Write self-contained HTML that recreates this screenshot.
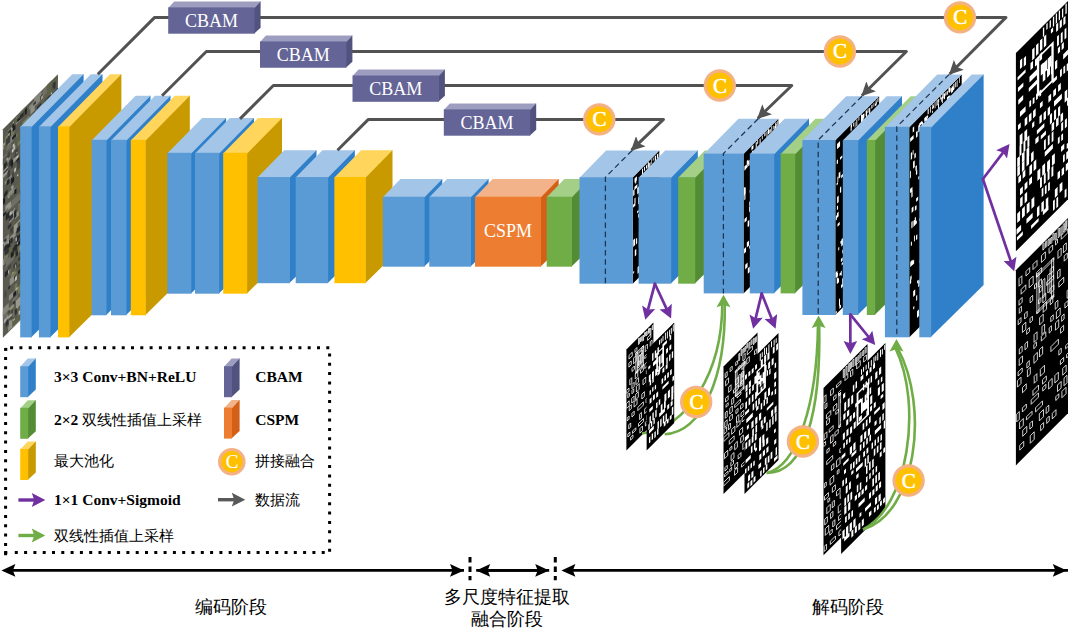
<!DOCTYPE html><html><head><meta charset="utf-8"><style>html,body{margin:0;padding:0;background:#fff;width:1068px;height:637px;overflow:hidden}svg{display:block}text{font-family:"Liberation Serif",serif}</style></head><body><svg width="1068" height="637" viewBox="0 0 1068 637"><defs><marker id="ag" viewBox="0 0 14 14" refX="13" refY="7" markerWidth="14" markerHeight="14" markerUnits="userSpaceOnUse" orient="auto"><path d="M0,0 L14,7 L0,14 L3,7 Z" fill="#525252"/></marker></defs><g transform="matrix(1,-1,0,1,2.9,129.2)"><clipPath id="c1"><polygon points="0,0 55,0 55,208.5 0,208.5"/></clipPath><polygon points="0,0 55,0 55,208.5 0,208.5" fill="#5a5a50"/><g clip-path="url(#c1)"><path d="M46.35 177.8h7.69v6.16h-7.69zM-2.74 14.93h6.93v5.85h-6.93zM7.13 115.01h5.68v4.33h-5.68zM47.28 124.35h5.53v3.73h-5.53zM43.95 122.85h4.76v4.23h-4.76zM52.89 135.61h7.15v7.09h-7.15zM44.79 14.68h7.5v3.21h-7.5zM27.49 4.63h4.36v8.45h-4.36zM45.38 144.66h4.34v5.87h-4.34zM52.89 203.22h6.22v8.54h-6.22zM30 142.39h7.55v6.08h-7.55zM28.01 205.76h3.73v3.65h-3.73zM12.35 96.84h3.76v6.04h-3.76zM32.22 192.23h3.78v8.46h-3.78zM-1.67 130.56h7.95v7.31h-7.95zM27.97 145.72h4.2v7.4h-4.2zM4.59 66.61h6.23v5.59h-6.23zM40.62 82.61h7.34v3.49h-7.34zM33.61 144.96h7.57v9.86h-7.57zM5.23 199.55h4.47v7.94h-4.47zM3.49 185.36h7.71v7.37h-7.71zM39.46 173.93h3.45v3.84h-3.45zM34.27 119.5h5.77v5.27h-5.77zM42.38 152.89h5.21v5.73h-5.21zM51.59 132.1h6.14v7.97h-6.14zM27.16 54.82h8.32v6.3h-8.32zM6.83 156.83h4.87v6.84h-4.87zM-0.17 196.93h7.81v5.69h-7.81zM36.54 14.48h7.49v6.8h-7.49zM5.98 172.55h4.87v5.18h-4.87zM3.74 82.61h5.02v3.92h-5.02z" fill="#8f8f86"/><path d="M30.48 35.96h6.07v7.41h-6.07zM7.61 91.23h3.85v6.77h-3.85zM51.91 69.08h3.51v6.31h-3.51zM32.03 191.22h4.53v3.08h-4.53zM5.03 6.9h6.78v6.13h-6.78zM42.5 192.01h3.74v4.7h-3.74zM48.71 51.12h7.03v9.68h-7.03zM48.33 40.94h8.1v9.78h-8.1zM50.33 191.12h6.15v3.76h-6.15zM27.95 120.78h3.82v9.4h-3.82zM-1.99 39.4h7.09v9.38h-7.09zM28.45 105.63h6.41v4.03h-6.41zM2.51 79.48h5.56v5.48h-5.56zM44.99 181.76h8.45v9.58h-8.45zM10.89 107.43h8.62v8.06h-8.62zM43.86 173.82h7.61v6.11h-7.61zM13.04 1.69h6.09v6.81h-6.09zM48.74 68.35h5.75v5.45h-5.75zM52.19 138.87h5.96v6.76h-5.96zM3.27 191.87h8.49v4.72h-8.49zM28.37 177.07h5.91v5.82h-5.91zM7.16 40.11h8.5v4.04h-8.5zM44.3 134.98h3.07v5.64h-3.07zM53.52 165.68h4.24v7.31h-4.24zM19.36 137.67h4.54v4.4h-4.54zM21.34 104.94h6.88v8.37h-6.88zM36.41 98.86h8.53v7.36h-8.53zM13.73 18.66h7.28v4.78h-7.28zM16.08 27.73h8.6v3.03h-8.6zM53.26 195.22h6.95v5.15h-6.95zM-2.07 39.1h5.81v4h-5.81zM13.05 184.62h5.78v9.34h-5.78z" fill="#9a988c"/><path d="M33.16 122.64h5.38v6.17h-5.38zM32.09 30.23h3.09v6.7h-3.09zM19.65 12.41h6.78v8.45h-6.78zM40.86 85.46h5.3v5.76h-5.3zM7.82 153.02h8.64v4.38h-8.64zM52.7 23.67h5.88v7.57h-5.88zM14.73 25.82h3.43v6.17h-3.43zM15.82 194.13h7.16v6.2h-7.16zM11.28 130.81h7.82v8.28h-7.82zM14.98 174.05h8.89v6.17h-8.89zM27.52 132.02h5.21v3.55h-5.21zM19.11 92.06h4.18v9.21h-4.18zM17.25 127.77h3.63v8.12h-3.63zM43.2 187.46h4.9v5.2h-4.9zM44.48 166.4h5.89v3.17h-5.89zM2.43 10.07h8.71v6.23h-8.71zM49.2 182.42h3.24v3.43h-3.24zM52.94 99.13h5.12v5.37h-5.12zM11.71 167.88h5.21v7.58h-5.21zM49.06 89.42h7.82v5.13h-7.82zM3.01 63.21h3.16v7.57h-3.16zM1.13 127.43h3.28v8.3h-3.28zM16.9 -2.18h5.27v3.62h-5.27zM3.54 133.72h7.66v4.26h-7.66zM23.9 104.32h5.65v9.26h-5.65zM53.61 53.23h6.21v4.05h-6.21zM24.09 58.92h3.68v8.4h-3.68zM3.25 62.35h4.64v6.29h-4.64zM15.9 171.47h3.55v3.99h-3.55zM19.84 144.67h8.89v8.53h-8.89zM53.18 108.81h4.56v4.32h-4.56zM44.62 38.61h8.67v7.39h-8.67zM48.13 47.82h6.44v8.82h-6.44zM45.3 188.26h6.69v7.48h-6.69zM41.89 82.07h5.99v3.72h-5.99z" fill="#737a58"/><path d="M-0.97 182.59h6.6v8.45h-6.6zM45.26 78.55h8.75v8.93h-8.75zM9.17 192.61h3.31v5.63h-3.31zM4.67 146.18h3.07v6.25h-3.07zM9.01 80.19h8.13v7.49h-8.13zM-0.6 27.88h5.65v3.07h-5.65zM26.2 50.84h7.44v5.74h-7.44zM0.94 83.81h4.49v3.33h-4.49zM46.65 85.02h7.74v9.04h-7.74zM1.57 131.91h8.96v9.16h-8.96zM51.15 55.4h4.01v6.15h-4.01zM44.24 55.68h6.65v7.75h-6.65zM18.48 117.02h8.28v8.58h-8.28zM22.13 113.11h7.61v6.41h-7.61zM9.44 180.05h5.57v3.25h-5.57zM31.5 2.86h8.82v6.61h-8.82zM-0.97 29.82h3.07v4.99h-3.07zM45.56 128.56h7.31v7.91h-7.31zM3.54 19.8h4.42v6.11h-4.42zM28.32 138.04h8.73v5.7h-8.73zM42.46 44.2h7.31v4.76h-7.31zM32.58 93.15h4.22v3.36h-4.22zM15.38 90.05h6.57v9.32h-6.57zM17.62 74.13h5.18v5.77h-5.18zM39.51 133.94h4.47v4.54h-4.47zM39.93 0.62h5.89v8.6h-5.89zM41.54 89.88h3.22v5.89h-3.22zM28.71 207.42h7v3.47h-7zM36.16 19.31h5.37v6.23h-5.37zM4.49 130.01h4.08v4.35h-4.08zM44.7 122.07h3.54v4.59h-3.54zM22.78 150.98h4.43v6.99h-4.43z" fill="#6f6f66"/><path d="M22.11 174.75h6.11v7.48h-6.11zM16.2 62.67h3.09v5.87h-3.09zM18.02 117.73h3.79v5.54h-3.79zM51.88 1.49h6.82v6.38h-6.82zM39.01 186.94h7.42v7.93h-7.42zM5.16 126.08h6.11v8.28h-6.11zM34.62 90.25h8.35v5.29h-8.35zM49.77 172.32h5.3v6.64h-5.3zM29.52 62.21h7.75v3.13h-7.75zM23.43 134.43h4.23v8.05h-4.23zM11.93 148.55h3.09v6.53h-3.09zM3.58 103.7h7.55v6.52h-7.55zM12.93 21.53h7.46v4.12h-7.46zM14.2 18.28h8.33v9.93h-8.33zM12.71 68.92h6.24v5.91h-6.24zM34.82 154.77h3.16v8.41h-3.16zM39.66 7.58h8.93v9.61h-8.93zM12.66 125.67h7.35v7.89h-7.35zM11.79 2.68h3.23v4.56h-3.23zM1.13 15.24h7.06v6.85h-7.06zM43.94 -1.04h4.86v9.37h-4.86zM47.26 43.16h6.94v5.29h-6.94zM9.61 201.2h7.38v6.61h-7.38zM3.19 35.94h4.3v4.65h-4.3zM34.63 159.82h3.55v9.04h-3.55zM5.25 188.61h7.86v3.92h-7.86zM32.78 194.8h7.5v9.68h-7.5zM34.09 19.42h5.27v6.57h-5.27zM15.76 193.03h5.17v6.24h-5.17zM20.45 128.62h7.14v8.31h-7.14z" fill="#5e6148"/><path d="M53.75 174.29h7.25v5.21h-7.25zM15.75 59.52h3.44v3.63h-3.44zM33.29 0.27h5.21v7.36h-5.21zM32.02 56.13h8.5v4.43h-8.5zM-2.17 136.74h5.28v3.09h-5.28zM2 1.7h8.74v3.79h-8.74zM36.75 106.81h6.69v8.29h-6.69zM16.1 163.25h3.84v4.04h-3.84zM48.33 106.34h7.07v6.08h-7.07zM13.54 150.79h6.83v6.66h-6.83zM12.56 102h5.47v3.8h-5.47zM8.64 130.21h6.83v6.71h-6.83zM6.41 105.15h3.09v9.25h-3.09zM31.18 103.4h8.9v8.63h-8.9zM-0.17 54.6h8.77v5.09h-8.77zM-0.12 38.24h5.25v3.69h-5.25zM29.37 206.97h6.83v8.67h-6.83zM0.34 196.45h5.52v6.69h-5.52zM14.81 108.92h5.9v4.89h-5.9zM-0.56 30.04h7.53v5.73h-7.53zM5.82 73.66h3.84v5.92h-3.84zM11.94 119.85h5.52v8.45h-5.52zM43.46 25.9h4.74v3.9h-4.74zM15.55 112.76h7.48v9.45h-7.48zM1.73 116.05h5.91v7.8h-5.91zM1.66 61.1h7.35v7.86h-7.35zM13.87 1.71h8.05v5.96h-8.05zM28.17 163.28h3.5v3.57h-3.5zM42.3 160.35h7.73v3.41h-7.73zM14.3 163.55h5.5v9.42h-5.5zM48.47 112.68h5.12v6.5h-5.12zM28.96 115.23h4.59v9.37h-4.59z" fill="#55584a"/><path d="M26.23 3.28h6.38v3.76h-6.38zM-2.97 179.37h8.85v7.15h-8.85zM51.67 99.07h6.45v9.07h-6.45zM32.75 62.58h4.37v7.27h-4.37zM30.62 191.88h5.85v5.5h-5.85zM47.18 78.11h6.5v5.22h-6.5zM4.67 71.01h8.37v3.28h-8.37zM20.1 37.07h7.62v4.86h-7.62zM8.36 97.26h4.07v3.08h-4.07zM0.76 110.67h5.48v9.7h-5.48zM9.43 207.65h8.33v3.94h-8.33zM4.55 15.6h5.33v6.04h-5.33zM3.55 33.4h3.95v4.98h-3.95zM31.25 -0.21h7.21v8.91h-7.21zM20.25 72.87h5.22v9.45h-5.22zM34.61 117.18h6.2v5.73h-6.2zM19 201.68h8.13v6.79h-8.13zM33.09 155.96h4.14v4.74h-4.14zM44.67 115.75h4.06v8.31h-4.06zM53.49 76.24h4.01v4.43h-4.01zM47.86 181.42h8.43v6.15h-8.43zM37.66 124.88h3.94v4.1h-3.94zM1.7 53.95h7.3v3.68h-7.3zM53.28 88.53h7.63v5.39h-7.63zM29.73 38.81h8.6v9.99h-8.6zM41.27 25.75h5.87v5.92h-5.87zM31.06 168.17h5.73v5.82h-5.73zM29.38 67.07h6.85v3.27h-6.85z" fill="#86857a"/><path d="M43.73 24.41h1.9v6.69h-1.9zM36.83 109.45h2.34v3.53h-2.34zM49.83 182.99h5v5.65h-5zM30.04 187.91h1.84v5.96h-1.84zM46.57 42.16h4.51v5.46h-4.51zM3.19 13.32h4.22v6.55h-4.22zM4.56 47.27h2.58v6.73h-2.58zM23.7 206.61h3.88v6.31h-3.88zM17.24 160.31h3.32v2.27h-3.32zM32.22 101.59h2.16v4.57h-2.16zM7.8 42.6h2.48v5.56h-2.48zM7.24 107.5h2.74v2.51h-2.74zM29.99 168.22h4.91v3.49h-4.91zM26.12 101.9h4.76v3.42h-4.76zM42.62 99.49h2.4v6.26h-2.4zM46.63 79.43h4.68v2.19h-4.68zM42.66 61.09h2.95v3.83h-2.95zM26.89 165.66h2.87v5.58h-2.87zM32.92 60.73h3.78v6.87h-3.78zM31.03 195.73h4.9v2.67h-4.9zM42.43 174.45h2.49v3.96h-2.49zM14.52 47.33h3.19v3.83h-3.19zM25.67 86.23h4.32v3.98h-4.32zM0.56 43.71h4.86v2.06h-4.86zM18.76 58.08h4.67v3.61h-4.67zM41.36 184.66h4.34v2.35h-4.34zM50.23 67.02h2.14v3.79h-2.14zM26.76 118.09h1.9v6.19h-1.9zM23.12 97.19h4.43v4.51h-4.43zM31.84 119.13h3.3v2.16h-3.3zM23.68 123.42h3.58v6.66h-3.58zM46.47 15.01h3.24v2.28h-3.24zM20.05 169.84h3.95v6.22h-3.95zM12.46 120.49h2.5v6.36h-2.5zM20.54 154.6h3.6v4.24h-3.6zM19.87 123.41h4.53v3.94h-4.53zM41.13 24.9h3.14v2.08h-3.14zM24.72 205.88h3.56v2.85h-3.56zM8.3 110.46h1.6v2.55h-1.6zM22.06 16.3h2.41v2.56h-2.41zM17.43 101.71h3.79v6.43h-3.79zM20.39 134.93h2.67v2.58h-2.67zM43.39 140.41h4v2.16h-4zM22.17 141.37h4.94v6.58h-4.94zM35.89 166.64h3.06v6.49h-3.06zM10.62 146.2h3.23v4.18h-3.23zM27.11 100.2h3.42v6.27h-3.42zM31.34 108.15h2.86v4.87h-2.86zM18.99 121.44h3.18v6.9h-3.18zM30.47 53.47h1.72v6.12h-1.72zM12.89 44.38h4.68v2.33h-4.68zM49.55 4.2h3.21v4.95h-3.21z" fill="#3a3c3e"/><path d="M27.83 89.9h4.66v3.6h-4.66zM39.85 63.39h3.58v2.35h-3.58zM45.92 87.65h4.32v3.11h-4.32zM1.27 35.78h3.04v4.25h-3.04zM50.95 56.97h2.97v6.39h-2.97zM36.89 195.06h3.06v2.39h-3.06zM34.89 162.86h3.31v4.53h-3.31zM1.87 124.14h4v4.86h-4zM30.07 189.7h4.6v6.62h-4.6zM32.91 107.93h4.1v4.56h-4.1zM18.28 44.88h1.64v2.12h-1.64zM12.43 131.56h1.81v4.14h-1.81zM11.75 192.5h2.21v5.84h-2.21zM35.26 49.88h1.83v3.71h-1.83zM37.11 4.79h2.87v3.82h-2.87zM24.85 67.71h2.39v2.12h-2.39zM17.15 77.64h2.54v6.08h-2.54zM5.98 93.93h4.2v4.4h-4.2zM19.49 142.03h2.14v6.28h-2.14zM22.22 131.34h2.89v6.67h-2.89zM18.89 112h4.31v4.02h-4.31zM29.62 31.54h1.52v5.8h-1.52zM42.56 172.15h4.19v6.93h-4.19zM26.83 57.58h4.97v5.13h-4.97zM24.07 111.55h4.53v2.98h-4.53zM50.97 49.61h1.88v4.2h-1.88zM6.22 37.79h2.86v6.25h-2.86zM34.89 43.38h2.23v5.83h-2.23zM32.33 74.37h2.19v6.97h-2.19zM24.21 105.35h4.8v3.73h-4.8zM50.46 16.26h3.77v3.13h-3.77zM15.53 144.54h3.85v3.22h-3.85zM18.1 170.67h4.48v4.95h-4.48zM50.06 186.33h1.58v3.76h-1.58zM48.34 112.98h4.17v5.88h-4.17zM14.17 124.75h2.27v2.42h-2.27zM44.29 12.84h3.35v4.74h-3.35zM25.65 47.91h4.12v4.44h-4.12zM50.92 76.05h3.59v3.84h-3.59zM11.12 158.63h1.7v2.92h-1.7zM31.24 168h4.8v5.24h-4.8zM21.32 59.44h3.88v2.43h-3.88zM34.04 11.8h4.17v2.24h-4.17zM4.79 101.82h3.71v3.75h-3.71zM25.95 92.92h4.9v3.78h-4.9zM5.18 163.09h2.26v3h-2.26zM32.24 172.78h4.94v2.55h-4.94zM1.08 111.74h2.39v3.47h-2.39zM29.72 54.62h1.77v2.15h-1.77zM50 31.65h2.86v6.11h-2.86zM2.88 194.82h2.77v5.94h-2.77zM18.74 29.3h4.82v5.32h-4.82zM32.46 192.46h4.58v2.51h-4.58zM49.76 203.01h4.82v6.63h-4.82zM50.73 5.01h1.61v6.15h-1.61zM24.11 48.75h4.59v2.88h-4.59zM30.39 4.65h2.59v2.33h-2.59z" fill="#303236"/><path d="M15.69 128.17h3.02v3.88h-3.02zM44.75 50.41h4.56v6.86h-4.56zM46.76 119.78h3.09v3.48h-3.09zM24.11 65.27h2.64v2.72h-2.64zM10.36 174.29h2.74v4.36h-2.74zM23.34 109.89h3.36v2.23h-3.36zM32.23 48.95h3.04v5.87h-3.04zM0.18 85.25h3.34v2.46h-3.34zM11.42 72.26h2.14v4.75h-2.14zM1.08 66.99h2.85v2.42h-2.85zM48.71 44.97h3.91v5.33h-3.91zM48.36 56.58h2.82v6.23h-2.82zM30.54 196.02h4.2v5.14h-4.2zM7.94 40.03h2.3v5.4h-2.3zM46.98 65.18h4.01v5.48h-4.01zM44.14 177.96h2.1v2.34h-2.1zM29.48 186.51h4.58v4.16h-4.58zM0.21 69.95h1.99v5.95h-1.99zM11.39 128.28h4.39v3.26h-4.39zM9.32 5.57h2.09v2.59h-2.09zM14.36 4.99h3.45v2.31h-3.45zM49.62 100.27h4.44v4.04h-4.44zM14.03 44.43h2.13v2.23h-2.13zM21.38 66.87h3.38v6.76h-3.38zM7.85 132.02h2.82v5.22h-2.82zM9.8 7.96h2.7v4.59h-2.7zM19.45 69.32h3.55v5.29h-3.55zM19.85 150.4h3.84v3.72h-3.84zM35.4 32.39h1.75v2.85h-1.75zM52.61 82.19h4.4v5.25h-4.4zM52.87 13.84h3.12v4.01h-3.12zM24.35 176.95h1.87v6.25h-1.87zM21.91 2.23h2.04v6.09h-2.04zM19.79 123.4h1.87v5.44h-1.87zM27.36 156.79h1.69v2.46h-1.69zM9.14 17.36h3.9v2.7h-3.9zM44.28 198.97h2.75v6.16h-2.75zM37.26 82.61h3.92v5.26h-3.92zM48.88 43.92h2.95v4.68h-2.95zM8.22 57h2.93v6.48h-2.93zM5.41 117.61h1.92v6.94h-1.92zM19.68 199.3h2.26v3.98h-2.26zM21.96 205.88h2.8v3.78h-2.8zM52.49 80.53h1.97v5.95h-1.97zM26.45 79.12h1.73v6.57h-1.73z" fill="#1c1e20"/><path d="M21.05 74.15h3.55v2.23h-3.55zM46.88 122.7h2.3v3.5h-2.3zM31.09 111.75h2.98v4.84h-2.98zM1.53 164.4h2.03v6.49h-2.03zM24.47 156.12h2.85v6.65h-2.85zM39.45 110.59h3.58v5.86h-3.58zM23.41 54.69h4.29v2.36h-4.29zM41.38 159.18h3.24v5.25h-3.24zM9.09 53.01h2.06v5.45h-2.06zM41.7 12.72h2.94v3.82h-2.94zM52.27 30.07h3.09v5.72h-3.09zM15.8 88.28h1.77v2.17h-1.77zM12.18 52.67h3.43v3.21h-3.43zM11.57 33.37h3.55v6.97h-3.55zM48.95 148.76h2.44v3.81h-2.44zM28.77 127.47h1.72v2.34h-1.72zM26.16 135.23h3.42v5.12h-3.42zM46.86 143.75h4.29v3.32h-4.29zM26.41 134.42h2.77v5.53h-2.77zM39.09 182.52h4.96v6.09h-4.96zM21.63 29.54h3.52v5.37h-3.52zM14.04 50.97h4.74v4.47h-4.74zM1.25 119.98h2.3v3.94h-2.3zM52.34 89.46h4.87v3.1h-4.87zM51.55 13.67h4.8v6.06h-4.8zM24.68 101.75h1.81v5.24h-1.81zM33.35 182.33h4.05v2.99h-4.05zM34.84 94.25h2.23v5.95h-2.23zM16.75 139.54h3.62v6.85h-3.62zM20.92 154.3h1.79v2.83h-1.79zM41.68 188.47h3.82v6.85h-3.82zM29.74 202.68h4.22v2.47h-4.22zM29.89 14.09h2.33v5.31h-2.33zM27.15 61.15h4.22v3.23h-4.22zM4.44 28.81h2.69v5.59h-2.69zM49.52 156.57h3.53v2.03h-3.53zM17.18 3.07h4.38v5.26h-4.38zM39.09 71.59h2.07v2.95h-2.07zM45.3 126.75h3.4v5.67h-3.4zM39.77 146.17h3.56v5.19h-3.56zM14.35 151.14h4.6v2.38h-4.6zM5.84 195.62h3.8v2.36h-3.8zM28.74 90.85h3.88v2.43h-3.88zM4.72 187.07h2.4v3.1h-2.4zM32.48 127.53h4.77v2.43h-4.77zM8.33 189.92h1.88v3.49h-1.88zM27.55 120.66h4.15v6.04h-4.15zM17.47 151.1h3.86v5.95h-3.86zM4.91 142.42h3.26v4.21h-3.26zM50.03 14.18h4.91v6.56h-4.91z" fill="#45463f"/><path d="M33.68 145.17h3.46v4.67h-3.46zM10.15 183.08h1.68v2.53h-1.68zM45.66 25.1h3.92v3.34h-3.92zM26.58 61.46h2.46v6.02h-2.46zM35.35 57.58h3.74v2.45h-3.74zM15.11 157.18h2.36v3.4h-2.36zM13.76 113.19h4.48v5.02h-4.48zM17.23 126.53h3.63v6.03h-3.63zM30.15 112.99h4.27v3.19h-4.27zM2.86 88.47h3.93v6.1h-3.93zM37.3 199.1h1.95v5.78h-1.95zM24.52 81.73h4.45v3.91h-4.45zM25.45 83.25h3.58v5.8h-3.58zM28.64 87.19h1.67v3.38h-1.67zM38.59 161.59h1.98v3.2h-1.98zM1.68 64.95h2.98v4.72h-2.98zM27.4 114.01h2.6v4.26h-2.6zM34.04 79.96h2.7v6.49h-2.7zM36.22 56.75h3.23v4.37h-3.23zM27.59 192.71h4.93v2.02h-4.93zM51.09 171.47h2.06v5.11h-2.06zM32.94 85.84h3.19v3.72h-3.19zM44.66 172.34h3.49v4.1h-3.49zM33.02 172.85h4.3v2.63h-4.3zM2.58 148.36h1.91v2.21h-1.91zM28.94 166.43h2.01v2.88h-2.01zM17.15 4h3.48v2.72h-3.48zM49.76 179.84h4.98v4.22h-4.98zM28.95 141.49h2.12v2.53h-2.12zM19.76 37.93h1.58v4h-1.58zM1.1 36.31h1.73v4.95h-1.73zM32.67 71.67h3.04v5.57h-3.04zM28.46 68.25h2.4v5.11h-2.4zM39.05 205.8h2.91v6.34h-2.91zM39.9 186.65h1.89v2.93h-1.89zM43.95 165.92h3.29v6.97h-3.29zM5.32 7.66h2.71v6.32h-2.71zM36.77 97.02h1.95v2.58h-1.95zM39.02 74.95h2.59v4.04h-2.59zM3.79 55.29h2.81v5.06h-2.81zM27.45 121.53h3.24v6.15h-3.24zM7.63 117.38h2.11v5.09h-2.11zM30.1 104.2h4.66v3.97h-4.66zM44.07 68.26h2.61v6.1h-2.61zM51.71 189.2h3.1v4.43h-3.1zM9.87 128.95h3.88v4.5h-3.88zM1.86 145.28h3.49v4.76h-3.49zM47.67 192.18h3.91v3.82h-3.91zM25.49 142.73h2.71v3.08h-2.71zM1.57 118.75h4.94v5.43h-4.94zM25.75 16.37h3.2v4.79h-3.2zM21.6 69.79h2.71v2.07h-2.71zM13.9 121.81h3.34v3.68h-3.34zM11.21 93.88h2.27v6.59h-2.27zM12.63 136.11h2.41v4.61h-2.41zM17.92 164.41h2.83v3.44h-2.83z" fill="#26282a"/><path d="M3.65 33.25h1.64v1.68h-1.64zM0.89 191.71h2.46v3.8h-2.46zM22.9 199.99h1.84v1.19h-1.84zM36.59 129.35h2.31v2.97h-2.31zM52.39 58.27h1.55v1.25h-1.55zM34.92 143.44h1.56v1.9h-1.56zM37 165.86h2.01v3.43h-2.01zM6.35 98.94h2.01v1.13h-2.01zM40.45 139.18h1.54v2.22h-1.54zM27.85 65.72h1.26v1.56h-1.26zM21.76 135.13h1.96v2.85h-1.96zM40.36 90.2h1.65v1.15h-1.65zM45.22 81.38h1.8v3.14h-1.8zM5.3 10.03h1.59v2.67h-1.59zM20.53 56.92h1.41v2.61h-1.41z" fill="#a6a69e"/><path d="M18.46 193.59h1.04v3.14h-1.04zM9.87 25.54h1.7v2.62h-1.7zM45.79 116.88h1.97v1.75h-1.97zM8.98 29.88h1.78v2.84h-1.78zM12.7 121.4h1.07v3.84h-1.07zM34.5 131.84h0.81v2.44h-0.81zM37.06 195.98h1.36v3.78h-1.36zM21.51 70.68h2.43v1.89h-2.43zM47.98 11.67h0.92v1.81h-0.92zM50.01 132.72h1.37v1.07h-1.37zM33.59 18.52h2.05v2.88h-2.05zM12.2 160.24h1.72v3.94h-1.72zM30.42 81.4h2.23v2.03h-2.23zM40.32 120.41h1.23v3.12h-1.23zM37.76 70.11h2.29v1.66h-2.29zM32.9 205.3h1.18v1.67h-1.18z" fill="#cfcfc8"/><path d="M10.4 28.23h1.95v3.65h-1.95zM53.11 150.89h1.95v1.37h-1.95zM23.7 121.56h1.72v1.85h-1.72zM9.34 153.17h1.16v1.06h-1.16zM9.86 3.16h1.32v1.12h-1.32zM26.85 191.89h1.67v2.14h-1.67zM35.79 83.39h1.65v3.54h-1.65zM12.66 172.44h2.16v1.76h-2.16zM51.63 136.85h1.6v2.93h-1.6zM14.02 59.92h1.46v1.76h-1.46zM15.69 198.02h1.85v3.89h-1.85zM18 58.09h1.69v2.46h-1.69zM5.22 146.66h0.89v3.27h-0.89zM6.59 90.06h1.97v3.29h-1.97zM33.22 38.2h2.45v3.36h-2.45zM24.66 89.95h0.98v2.42h-0.98zM4.69 117.31h1.22v2.71h-1.22zM11.23 51h2.06v3.96h-2.06zM42.73 147.28h1.56v2.1h-1.56zM0.49 113.55h1.09v2.09h-1.09zM29.13 82.75h1.49v3.36h-1.49zM39.91 54.99h1.63v3.09h-1.63zM35.94 60.58h1.36v2.87h-1.36z" fill="#b8b8b0"/><path d="M19.84 151.18h2.37v1.44h-2.37zM42.81 202.3h1.58v2.81h-1.58zM25.11 39.68h2.4v3.93h-2.4zM29.17 95.75h1.37v3.74h-1.37zM27.48 204.79h1.29v1.51h-1.29zM8.18 65.73h1.93v2.51h-1.93zM50.36 134.01h0.91v3h-0.91zM42.41 181.71h1.77v3.83h-1.77zM12.15 147.9h0.87v3.65h-0.87zM42.97 47.57h1.91v3.33h-1.91zM0.91 15.16h1.46v2.41h-1.46zM11.05 90.52h1.16v1.07h-1.16zM47.85 15.59h1.19v1.69h-1.19zM14.01 127.61h1.18v2.2h-1.18zM35.82 60.14h2.17v2.26h-2.17zM30.75 198.32h1.4v3.28h-1.4zM37.87 5.75h2.36v3.36h-2.36z" fill="#9a9a90"/><path d="M23.89 167.13h1.25v1.28h-1.25zM10.04 200.75h1.88v1.31h-1.88zM24.96 18.71h1.65v2.45h-1.65zM5.53 73.44h0.9v1.22h-0.9zM37.49 157.69h2.47v2.87h-2.47zM13.49 41.44h1.79v1.72h-1.79zM22.38 84.61h1.2v2.42h-1.2zM43.67 192.34h1.65v3.84h-1.65zM29.22 207.45h1.7v1.57h-1.7zM39.25 66.41h2.1v2.94h-2.1zM23.63 26.59h1.52v2.72h-1.52zM31.16 153.74h2.28v1.57h-2.28zM24.55 78.21h2.33v3.93h-2.33zM51.29 136.4h1.94v2.31h-1.94zM22.01 32.68h0.84v3.26h-0.84zM17.54 151.13h2.42v1.82h-2.42zM18.53 198.27h1.36v3.77h-1.36zM13.49 37.01h1v1.26h-1zM17.25 134.66h2.37v3.36h-2.37z" fill="#c4c0b0"/></g></g><polygon points="31,126.3 83,74.3 83.6,74.3 83.6,285.4 31,337.4" fill="#2F80C9"/><polygon points="20.2,126.9 72.2,74.3 83.6,74.3 83.6,74.31 31.6,126.9" fill="#A2C5E8"/><rect x="20.2" y="126.3" width="11.4" height="211.1" fill="#5B9BD5"/><polygon points="49.9,126.3 101.9,74.3 102.5,74.3 102.5,285.4 49.9,337.4" fill="#2F80C9"/><polygon points="38.9,126.9 90.9,74.3 102.5,74.3 102.5,74.31 50.5,126.9" fill="#A2C5E8"/><rect x="38.9" y="126.3" width="11.6" height="211.1" fill="#5B9BD5"/><polygon points="68.8,126.3 120.8,74.3 121.4,74.3 121.4,285.4 68.8,337.4" fill="#C89A00"/><polygon points="58,126.9 110,74.3 121.4,74.3 121.4,74.31 69.4,126.9" fill="#FFD55C"/><rect x="58" y="126.3" width="11.4" height="211.1" fill="#FFC000"/><polygon points="105.9,139.8 149.9,95.8 150.5,95.8 150.5,271.3 105.9,315.3" fill="#2F80C9"/><polygon points="91.6,140.4 135.6,95.8 150.5,95.8 150.5,95.81 106.5,140.4" fill="#A2C5E8"/><rect x="91.6" y="139.8" width="14.9" height="175.5" fill="#5B9BD5"/><polygon points="125.9,139.8 169.9,95.8 170.5,95.8 170.5,271.3 125.9,315.3" fill="#2F80C9"/><polygon points="111,140.4 155,95.8 170.5,95.8 170.5,95.81 126.5,140.4" fill="#A2C5E8"/><rect x="111" y="139.8" width="15.5" height="175.5" fill="#5B9BD5"/><polygon points="145.2,139.8 189.2,95.8 189.8,95.8 189.8,271.3 145.2,315.3" fill="#C89A00"/><polygon points="130.8,140.4 174.8,95.8 189.8,95.8 189.8,95.81 145.8,140.4" fill="#FFD55C"/><rect x="130.8" y="139.8" width="15" height="175.5" fill="#FFC000"/><polygon points="190.7,152.8 225.5,118 226.1,118 226.1,258.9 190.7,293.7" fill="#2F80C9"/><polygon points="167.3,153.4 202.1,118 226.1,118 226.1,118.01 191.3,153.4" fill="#A2C5E8"/><rect x="167.3" y="152.8" width="24" height="140.9" fill="#5B9BD5"/><polygon points="218.6,152.8 253.4,118 254,118 254,258.9 218.6,293.7" fill="#2F80C9"/><polygon points="195,153.4 229.8,118 254,118 254,118.01 219.2,153.4" fill="#A2C5E8"/><rect x="195" y="152.8" width="24.2" height="140.9" fill="#5B9BD5"/><polygon points="246.6,152.8 281.4,118 282,118 282,258.9 246.6,293.7" fill="#C89A00"/><polygon points="223.2,153.4 258,118 282,118 282,118.01 247.2,153.4" fill="#FFD55C"/><rect x="223.2" y="152.8" width="24" height="140.9" fill="#FFC000"/><polygon points="289.2,177 315.9,150.3 316.5,150.3 316.5,256.5 289.2,283.2" fill="#2F80C9"/><polygon points="257.5,177.6 284.2,150.3 316.5,150.3 316.5,150.31 289.8,177.6" fill="#A2C5E8"/><rect x="257.5" y="177" width="32.3" height="106.2" fill="#5B9BD5"/><polygon points="327.5,177 354.2,150.3 354.8,150.3 354.8,256.5 327.5,283.2" fill="#2F80C9"/><polygon points="295.7,177.6 322.4,150.3 354.8,150.3 354.8,150.31 328.1,177.6" fill="#A2C5E8"/><rect x="295.7" y="177" width="32.4" height="106.2" fill="#5B9BD5"/><polygon points="365.2,177 391.9,150.3 392.5,150.3 392.5,256.5 365.2,283.2" fill="#C89A00"/><polygon points="334.4,177.6 361.1,150.3 392.5,150.3 392.5,150.31 365.8,177.6" fill="#FFD55C"/><rect x="334.4" y="177" width="31.4" height="106.2" fill="#FFC000"/><polygon points="424,196.7 441.7,179 442.3,179 442.3,249 424,266.7" fill="#2F80C9"/><polygon points="382.8,197.3 400.5,179 442.3,179 442.3,179.01 424.6,197.3" fill="#A2C5E8"/><rect x="382.8" y="196.7" width="41.8" height="70" fill="#5B9BD5"/><polygon points="470.3,196.7 488,179 488.6,179 488.6,249 470.3,266.7" fill="#2F80C9"/><polygon points="429.3,197.3 447,179 488.6,179 488.6,179.01 470.9,197.3" fill="#A2C5E8"/><rect x="429.3" y="196.7" width="41.6" height="70" fill="#5B9BD5"/><polygon points="540.4,196.7 558.1,179 558.7,179 558.7,249 540.4,266.7" fill="#D45F17"/><polygon points="475,197.3 492.7,179 558.7,179 558.7,179.01 541,197.3" fill="#F2B38A"/><rect x="475" y="196.7" width="66" height="70" fill="#ED7D31"/><text x="508" y="237.2" fill="#fff" font-size="18" text-anchor="middle">CSPM</text><polygon points="571.3,196.7 589,179 589.6,179 589.6,249 571.3,266.7" fill="#548C36"/><polygon points="546.7,197.3 564.4,179 589.6,179 589.6,179.01 571.9,197.3" fill="#A3CF87"/><rect x="546.7" y="196.7" width="25.2" height="70" fill="#70AD47"/><g transform="matrix(1,-1,0,1,632.7,177.2)"><clipPath id="c2"><polygon points="0,0 26.6,0 26.6,106.5 0,106.5"/></clipPath><polygon points="0,0 26.6,0 26.6,106.5 0,106.5" fill="#000"/><g clip-path="url(#c2)"><path d="M9.31 1.4h0.99v6.7h-0.99zM11.27 1.52h1.01v3.74h-1.01zM13.28 1.76h1.16v3.38h-1.16zM15.05 0.68h1.17v5.77h-1.17zM16.5 2.46h1.28v5.62h-1.28zM18.64 0.81h0.61v5.11h-0.61zM20.11 0.88h0.77v3.12h-0.77zM22.06 1.38h1.19v5.08h-1.19zM24.23 1.5h1.06v4.83h-1.06zM25.97 2.5h1.3v6.36h-1.3zM7.44 6.76h1.72v2.28h-1.72zM18.08 8.8h3.12v3.55h-3.12zM22.61 14.17h1v2.84h-1zM21.48 9.64h3.45v3.59h-3.45zM1.72 11.55h2.95v3.08h-2.95zM24.74 77.95h0.94v3.66h-0.94zM2.59 6.19h0.99v3.23h-0.99zM13.72 46.36h2.08v2.89h-2.08zM3.34 64.91h1.11v5.66h-1.11zM5.45 27.63h0.99v4.1h-0.99zM7.37 88.91h2.35v6.02h-2.35zM21.75 65.81h1.14v3.97h-1.14zM5.47 25.71h0.96v6.95h-0.96zM7.28 7.55h2.04v3.64h-2.04zM6.23 61.08h0.94v4.91h-0.94zM24.18 49.45h1.39v4.27h-1.39zM4.55 15.44h1.72v6.33h-1.72zM6.07 19.06h2.25v6.09h-2.25zM4.84 94.82h1.98v6.7h-1.98zM10.28 10.54h2.21v5.02h-2.21zM6.14 70.24h0.86v6.81h-0.86zM15.14 29.46h1.21v6.12h-1.21zM1.76 23.04h1.08v5.6h-1.08zM15.3 28.09h1.69v6.26h-1.69zM0.4 27.86h2.27v3.02h-2.27zM4.42 38.43h1.51v2.3h-1.51zM9.01 92.52h1.72v2.66h-1.72zM16.75 59.15h2.37v5.28h-2.37zM0.46 94.96h1.02v2.18h-1.02zM0.52 63.42h1.92v6.81h-1.92zM7.98 100.78h1.57v5.65h-1.57zM18.93 91.61h0.92v4.73h-0.92zM19.53 92.4h1.98v5.52h-1.98zM22.73 88.05h1.36v5.43h-1.36zM21.7 57.59h1.47v5.95h-1.47zM14.45 62.46h1.8v3.91h-1.8zM25.5 89.13h0.93v5.2h-0.93zM18.11 59.58h1.97v3.94h-1.97zM2.1 75.25h1.5v6.19h-1.5zM12.39 23.37h0.85v5.01h-0.85zM15.17 93.9h1.92v4.49h-1.92zM7.64 70.83h1.21v2.06h-1.21zM23.07 68.41h1.12v2.85h-1.12zM8.2 66.62h1.51v6.46h-1.51zM20.54 93.57h1.12v4.15h-1.12zM14.22 32.46h2.21v3.92h-2.21zM21.41 86.58h1.02v4.48h-1.02zM6.83 16.87h1.94v6.75h-1.94zM5.37 42.69h1.52v3.38h-1.52zM7.82 85.62h1.8v4.47h-1.8zM1.81 3.22h2.37v4.26h-2.37zM17.29 59.51h2.2v2.21h-2.2zM0.48 13.66h1.29v5.96h-1.29zM20.8 24.78h1.53v2.12h-1.53zM16.09 46.55h1.03v2.23h-1.03zM20.02 97.02h1.81v5.28h-1.81z" fill="#fff"/></g></g><polygon points="579.5,177.8 606.1,150.6 659.3,150.6 659.3,150.61 632.7,177.8" fill="#A2C5E8"/><rect x="579.5" y="177.2" width="53.2" height="106.5" fill="#5B9BD5"/><path d="M632,150.6 L605.4,177.2 L605.4,283.7" fill="none" stroke="#1d3550" stroke-width="1.25" stroke-dasharray="5.6,3.6"/><polygon points="670.6,177.2 697.2,150.6 697.8,150.6 697.8,257.1 670.6,283.7" fill="#2F80C9"/><polygon points="638.6,177.8 665.2,150.6 697.8,150.6 697.8,150.61 671.2,177.8" fill="#A2C5E8"/><rect x="638.6" y="177.2" width="32.6" height="106.5" fill="#5B9BD5"/><polygon points="694.6,177.2 721.2,150.6 721.8,150.6 721.8,257.1 694.6,283.7" fill="#548C36"/><polygon points="678.2,177.8 704.8,150.6 721.8,150.6 721.8,150.61 695.2,177.8" fill="#A3CF87"/><rect x="678.2" y="177.2" width="17" height="106.5" fill="#70AD47"/><g transform="matrix(1,-1,0,1,743.5,153.6)"><clipPath id="c3"><polygon points="0,0 34.8,0 34.8,139.8 0,139.8"/></clipPath><polygon points="0,0 34.8,0 34.8,139.8 0,139.8" fill="#000"/><g clip-path="url(#c3)"><path d="M12.18 1.45h1.06v5.67h-1.06zM13.75 0.52h0.86v4.1h-0.86zM16.12 1.88h1.02v5.23h-1.02zM18.32 0.79h0.91v3.65h-0.91zM20.8 0.62h1.17v3.3h-1.17zM23.03 1.17h0.88v6.37h-0.88zM24.45 0.62h1.24v5.04h-1.24zM25.96 2.47h1.26v3.45h-1.26zM27.87 0.77h0.82v5.49h-0.82zM29.46 1.89h0.64v3.68h-0.64zM31.84 1.3h0.89v5.38h-0.89zM33.82 1.27h0.62v5.91h-0.62zM31.05 11.96h1.89v3.45h-1.89zM21.95 12.09h1.28v2.94h-1.28zM11.55 10.14h3.03v4h-3.03zM0.89 13.87h2.08v4.08h-2.08zM7.06 9.13h1.97v5.09h-1.97zM3.26 10.6h1.45v4.78h-1.45zM11.68 86.89h0.86v3.38h-0.86zM7.08 38.2h0.88v4.3h-0.88zM15.99 127.14h1.56v6.79h-1.56zM12.28 25.2h1.07v6.62h-1.07zM0.22 35.74h2v6.56h-2zM7.92 1.17h2.03v3.71h-2.03zM33.39 134.5h0.86v5.1h-0.86zM10.7 108.41h1.61v2.12h-1.61zM7.5 70.97h2.13v5.2h-2.13zM8.73 127.48h1.56v5.14h-1.56zM9.49 119.61h2.23v2.81h-2.23zM17.29 92.62h1.25v6.72h-1.25zM9.37 34.86h1.93v3.07h-1.93zM4.33 119.07h1.89v5.47h-1.89zM14.51 133.79h1.47v3.21h-1.47zM30.45 129.56h1.7v5.12h-1.7zM19.29 122.27h2.02v4.09h-2.02zM11.38 49.71h2.06v4.9h-2.06zM0.56 95.86h1.98v4.82h-1.98zM29.22 121.84h2.25v5.99h-2.25zM12.58 13.16h1.66v5.95h-1.66zM31.23 93.88h1.37v3.56h-1.37zM4.13 71.96h1.67v5.11h-1.67zM8.08 55.27h1.92v3.97h-1.92zM4.75 12.17h1.32v5.43h-1.32zM25.45 88.57h1.3v5.48h-1.3zM0.97 66.33h2.3v3.83h-2.3zM22.22 46.72h1.51v2.9h-1.51zM31.73 1.05h1.18v3.64h-1.18zM6.73 58.99h1.38v3.4h-1.38zM16.86 92.99h1.15v6.59h-1.15zM20.46 114.19h1.06v4.32h-1.06zM28.72 112.69h1.2v4.3h-1.2zM25.61 53.41h1.16v4.69h-1.16zM32.02 74.49h1.88v5.32h-1.88zM24.1 43.84h1.89v3.75h-1.89zM10.2 18.48h1.6v3.8h-1.6zM8.47 6.2h1.16v4.72h-1.16zM30.62 81.66h2.09v3.43h-2.09zM29.95 42.83h1.42v6.37h-1.42zM28.48 81.9h1v5.2h-1zM20.23 35.73h2.05v4.06h-2.05zM12.83 54.3h1.45v3.9h-1.45zM6.71 34.88h2.09v2.85h-2.09zM1.72 112.93h2.35v4.61h-2.35zM11.7 98.22h2.2v6.11h-2.2zM29 114.22h1.29v2.69h-1.29zM0.83 41.14h1.14v6.4h-1.14zM5.55 98.03h0.82v2.86h-0.82zM6.17 42.69h1.27v2.95h-1.27zM3.34 92.31h2.18v5.03h-2.18zM17.48 88.32h1.66v4.24h-1.66zM20.79 63.21h2.08v4.53h-2.08zM13.68 70.19h1.81v3.94h-1.81zM30.39 67.05h1.94v3.39h-1.94zM31.21 91.69h2.17v5.45h-2.17zM20.25 102.35h1.48v4.03h-1.48zM2.04 14.83h2.14v2.65h-2.14zM0.28 34.31h0.93v2.28h-0.93zM20.83 129.76h0.98v5.43h-0.98zM30.83 3.76h2.34v5.73h-2.34zM15.99 27.51h1.16v6.63h-1.16zM17.81 42.87h2.01v4.12h-2.01zM20.4 130.87h1.19v2.44h-1.19zM30.26 48.53h2.38v5.83h-2.38zM20.12 89.11h1.28v6.62h-1.28zM16.39 99.9h0.82v3.14h-0.82zM11.1 51.14h2.12v5.79h-2.12zM15.82 25.88h2.18v6.95h-2.18zM11.94 31.15h1.8v4.68h-1.8zM4.23 72.88h1.42v5.06h-1.42zM8.19 56.11h2.32v5.72h-2.32zM21.38 23.18h0.96v5.69h-0.96zM19.12 51.02h1.68v4.98h-1.68zM33.42 44.94h1.3v3.77h-1.3zM5.74 54.17h1.6v4.3h-1.6zM12.36 47.65h1.13v3.61h-1.13zM10.8 89.63h2.3v3.48h-2.3zM21.6 9.96h1.44v4.58h-1.44zM8.24 111.18h1.87v2.51h-1.87zM5.56 58.92h2.38v5.37h-2.38zM7.82 26.22h1.25v6.21h-1.25zM19.45 64.46h1.82v5.19h-1.82zM30.42 53.08h2.33v4.29h-2.33zM23.78 102.21h1.54v3.8h-1.54zM24.42 67.8h1.18v4.63h-1.18zM23.53 47.86h1.86v5.08h-1.86zM29.83 108.75h1.29v2.12h-1.29z" fill="#fff"/></g></g><polygon points="703.7,154.2 738.5,118.8 778.3,118.8 778.3,118.81 743.5,154.2" fill="#A2C5E8"/><rect x="703.7" y="153.6" width="39.8" height="139.8" fill="#5B9BD5"/><path d="M758.2,118.8 L723.4,153.6 L723.4,293.4" fill="none" stroke="#1d3550" stroke-width="1.25" stroke-dasharray="5.6,3.6"/><polygon points="773.6,153.6 808.4,118.8 809,118.8 809,258.6 773.6,293.4" fill="#2F80C9"/><polygon points="749.8,154.2 784.6,118.8 809,118.8 809,118.81 774.2,154.2" fill="#A2C5E8"/><rect x="749.8" y="153.6" width="24.4" height="139.8" fill="#5B9BD5"/><polygon points="794.6,153.6 829.4,118.8 830,118.8 830,258.6 794.6,293.4" fill="#548C36"/><polygon points="780.6,154.2 815.4,118.8 830,118.8 830,118.81 795.2,154.2" fill="#A3CF87"/><rect x="780.6" y="153.6" width="14.6" height="139.8" fill="#70AD47"/><g transform="matrix(1,-1,0,1,835.3,140)"><clipPath id="c4"><polygon points="0,0 43.8,0 43.8,175 0,175"/></clipPath><polygon points="0,0 43.8,0 43.8,175 0,175" fill="#000"/><g clip-path="url(#c4)"><path d="M15.33 1.02h1.08v5.74h-1.08zM17.75 0.87h0.76v3.59h-0.76zM19.42 1.97h0.69v5.13h-0.69zM21.08 1.09h0.9v6.35h-0.9zM23.21 0.53h0.79v3.59h-0.79zM25.65 2.12h1.16v6.31h-1.16zM27.95 2.4h1.16v4.03h-1.16zM30.37 1.47h1.13v5.26h-1.13zM32.28 1.23h0.9v4.26h-0.9zM33.82 2.14h1.16v6.94h-1.16zM36.05 1.61h1.12v3.54h-1.12zM38.26 1.39h0.72v3.81h-0.72zM40.29 1.01h0.92v5.42h-0.92zM42.17 0.76h0.94v3.94h-0.94zM7.93 8.4h1.18v4.6h-1.18zM38.91 8.68h2.8v5.73h-2.8zM1.76 5.7h3.02v5.35h-3.02zM26.07 5.92h2.03v5.47h-2.03zM36.16 13.64h1.51v5.41h-1.51zM15.29 12.6h1.34v5.89h-1.34zM24.62 12.67h1.53v4.47h-1.53zM23.7 11.09h1.9v4.91h-1.9zM6.98 117.33h1.35v3.48h-1.35zM2.96 110.6h0.98v3.13h-0.98zM1.64 74.85h1.69v4.72h-1.69zM0.13 172.18h1.35v2.46h-1.35zM11.51 102.43h0.99v3.51h-0.99zM15.72 142.41h0.92v4.35h-0.92zM21.35 166.15h0.81v3.67h-0.81zM28.24 50.6h1.63v4.37h-1.63zM39.1 125.89h0.85v4.51h-0.85zM36.16 43.84h1.21v5.42h-1.21zM10.27 49.2h1.74v3.78h-1.74zM1.63 68.09h1.13v3.75h-1.13zM25.71 0.69h0.94v5.79h-0.94zM20.08 95.42h2.04v2.95h-2.04zM18.47 23.5h1.33v3.45h-1.33zM34.27 37.64h2.18v2.56h-2.18zM1.42 21.94h1.29v3.94h-1.29zM37.18 169.06h1.38v4.21h-1.38zM5.55 136.88h0.87v4.68h-0.87zM23.17 21.17h1.32v6.46h-1.32zM37.32 25.72h0.81v3.24h-0.81zM14.57 137.22h1.57v3.86h-1.57zM28.44 158.46h1.14v5.59h-1.14zM18.58 96.54h1.63v6.6h-1.63zM37.7 19.47h1.79v6.2h-1.79zM34.76 90.89h1.02v4.67h-1.02zM12.66 14.61h1.28v6.81h-1.28zM31.2 18.52h0.88v2.15h-0.88zM41.84 136.46h1.95v6.33h-1.95zM35.26 121.64h1.48v5.11h-1.48zM4.65 52.19h1.26v5.81h-1.26zM11.09 133.93h2.39v4.36h-2.39zM1.24 44.81h1.52v2.02h-1.52zM10.5 143.08h1.33v6.69h-1.33zM41.35 130.21h2.17v4.08h-2.17zM19.47 154.88h1.57v3.31h-1.57zM15.83 81.9h1.66v2.97h-1.66zM1.46 139.72h1.11v4.86h-1.11zM25.15 53h1.09v2.51h-1.09zM21.68 142.3h2.22v4.48h-2.22zM27.69 72.52h1.14v5.73h-1.14zM35.75 24.79h2.33v2.11h-2.33zM2.23 86.23h2.14v2.77h-2.14zM20.2 104.41h2.28v3.29h-2.28zM0.41 76.55h1.19v4.65h-1.19zM9.21 8.71h2.02v3.7h-2.02zM38.28 126.53h1.92v4.14h-1.92zM39.92 137.6h0.96v6.57h-0.96zM30.04 113.15h2.13v5.41h-2.13zM5.62 124.7h1.75v3.29h-1.75zM26.98 105.37h1.75v2.28h-1.75zM36.97 64.45h1.62v5.88h-1.62zM23.85 70.57h2.1v4.5h-2.1zM39.53 57.77h2.29v4.22h-2.29zM28.66 63.21h1.88v6.56h-1.88zM17.76 138.88h0.92v4.39h-0.92zM18.69 68.99h2.05v6.93h-2.05zM3.36 36.47h1.7v5.75h-1.7zM12.83 165.94h1.03v3.62h-1.03zM12.57 34.31h1.13v6.67h-1.13zM4.68 22.19h2.36v2.45h-2.36zM9.11 27.22h0.91v3.93h-0.91zM2.12 39.23h0.83v5.49h-0.83zM27.76 119.49h1.7v6.42h-1.7zM35.72 26.2h1.92v5.99h-1.92zM22.26 88.51h0.89v5.1h-0.89zM29.48 73.41h2.05v2.87h-2.05zM11.92 99.45h1.47v3.22h-1.47zM11.8 120.56h1.69v6.53h-1.69zM6.88 145.57h0.96v5.26h-0.96zM33.5 37.72h2.34v3.27h-2.34zM18.77 18h1.29v2.52h-1.29zM17.59 120.77h1.93v4.88h-1.93zM15.5 0.35h1.17v3.66h-1.17zM4.21 137.68h2.22v2.44h-2.22zM17.57 23.77h2.11v4.24h-2.11zM10.48 25.74h0.8v4.6h-0.8zM15.05 129.95h2.25v2.1h-2.25zM31.02 97.17h1.99v2.53h-1.99zM33.54 100.85h1.81v6.72h-1.81zM23.04 139.41h2.03v4.46h-2.03zM0.86 135.12h1.79v3.88h-1.79zM12.21 94.88h1.34v4.15h-1.34zM25.17 94.27h1.44v6.17h-1.44zM22.39 128.15h2.05v4.2h-2.05zM37.28 94.46h1.96v5.72h-1.96zM10.16 74.76h1.69v2.94h-1.69zM1.8 58.91h1.6v6.5h-1.6zM35.48 27.28h1.98v4.29h-1.98zM23.7 9.73h2.03v4.16h-2.03zM31.14 95.31h1.44v6.01h-1.44zM29.59 77.13h1.48v2.2h-1.48zM16.82 148.63h1.96v5.06h-1.96zM3.68 163.02h1.01v6.8h-1.01zM39.36 87.48h1.74v4.24h-1.74zM33.65 110.39h1.61v2.3h-1.61zM17.9 161.26h1.18v2.57h-1.18zM1.49 141.48h2.19v4.33h-2.19zM21.31 163.19h1.12v5.65h-1.12zM30.8 2.92h1.04v5.97h-1.04zM29.27 164.9h1.7v3.47h-1.7zM25.32 42.39h1.87v4.47h-1.87zM30.45 11.34h1.55v2.58h-1.55zM23.74 9.74h1.64v2.9h-1.64zM30.91 150.89h0.84v5.12h-0.84zM5.98 105.66h1.88v6.98h-1.88zM5.87 41.39h1.82v2.88h-1.82zM29.98 96.68h1.64v5.94h-1.64zM21.97 28.73h0.92v5.61h-0.92zM12.97 77.52h1.79v3.23h-1.79zM18.49 40.55h2v2.53h-2zM11.07 121.58h1.87v6.08h-1.87zM11.65 92.48h1.54v3.09h-1.54zM0.02 132.84h2.09v5.01h-2.09zM10.14 75.33h1.73v4.11h-1.73zM5.8 150.83h1.91v3.36h-1.91zM37.67 18.89h1.51v2.35h-1.51zM28.18 152.74h1.38v5.1h-1.38zM37.57 79.54h1.08v4.85h-1.08zM29.99 163.5h1.94v4.33h-1.94zM14.64 150.29h1.34v5.69h-1.34zM36.51 100.44h2.02v6.29h-2.02zM23.8 12.8h2.32v2.78h-2.32zM12 137.7h1.73v5.44h-1.73zM8.19 99.44h1.47v2.99h-1.47zM12.96 168.38h1.41v2.23h-1.41zM18.02 12.06h1.56v5.42h-1.56zM5.13 106.1h1.78v3.05h-1.78zM39.66 3.58h1.88v2.05h-1.88zM34.08 127.24h1.07v3.64h-1.07zM38.13 22.82h1.99v4.15h-1.99zM6.37 129.72h2.34v2.25h-2.34zM10.38 147.04h2.03v5.37h-2.03zM4.07 170.07h1.62v3.03h-1.62zM15.29 153.56h0.89v3.1h-0.89zM26.29 1.95h2.13v6.21h-2.13zM39.62 166.94h1.98v2.95h-1.98zM10.37 17.69h0.91v5.66h-0.91zM12.25 95.66h2.2v4.21h-2.2z" fill="#fff"/></g></g><polygon points="802.4,140.6 846.2,96.2 879.1,96.2 879.1,96.21 835.3,140.6" fill="#A2C5E8"/><rect x="802.4" y="140" width="32.9" height="175" fill="#5B9BD5"/><path d="M862,96.2 L818.2,140 L818.2,315" fill="none" stroke="#1d3550" stroke-width="1.25" stroke-dasharray="5.6,3.6"/><polygon points="857.6,140 901.4,96.2 902,96.2 902,271.2 857.6,315" fill="#2F80C9"/><polygon points="842.8,140.6 886.6,96.2 902,96.2 902,96.21 858.2,140.6" fill="#A2C5E8"/><rect x="842.8" y="140" width="15.4" height="175" fill="#5B9BD5"/><polygon points="874.6,140 918.4,96.2 919,96.2 919,271.2 874.6,315" fill="#548C36"/><polygon points="866.8,140.6 910.6,96.2 919,96.2 919,96.21 875.2,140.6" fill="#A3CF87"/><rect x="866.8" y="140" width="8.4" height="175" fill="#70AD47"/><g transform="matrix(1,-1,0,1,909.3,126.8)"><clipPath id="c5"><polygon points="0,0 52.4,0 52.4,210.5 0,210.5"/></clipPath><polygon points="0,0 52.4,0 52.4,210.5 0,210.5" fill="#000"/><g clip-path="url(#c5)"><path d="M18.34 0.71h1.09v5.61h-1.09zM20.87 1.04h0.78v5.94h-0.78zM23.06 1.11h1.08v4.59h-1.08zM25.39 0.74h0.76v6.61h-0.76zM27.22 1.02h1.16v5.53h-1.16zM28.8 1.6h1.06v3.66h-1.06zM30.98 0.75h0.84v3.33h-0.84zM32.63 2.46h0.88v6.96h-0.88zM34.55 1.72h1.21v5.75h-1.21zM36.09 1.68h1.04v3.72h-1.04zM37.6 2.25h0.96v3.78h-0.96zM39.55 0.94h1.16v5h-1.16zM41.07 2.14h0.66v4.12h-0.66zM42.5 1.98h0.68v5.1h-0.68zM44.01 1.46h1.08v5.14h-1.08zM45.96 1.47h0.91v5.38h-0.91zM47.47 1.45h0.77v6.46h-0.77zM50 0.63h0.7v5.81h-0.7zM0.94 12.46h3.36v3.69h-3.36zM17.17 10.83h3.35v3.05h-3.35zM14.93 6.26h2.57v3.88h-2.57zM12.65 8.65h1.09v3.25h-1.09zM48.56 11.03h1.71v5.74h-1.71zM17.7 7.02h1.09v2.58h-1.09zM9.83 6.76h3.18v3.06h-3.18zM12.28 11.25h3.29v3.17h-3.29zM37.62 8.42h2.4v4.38h-2.4zM46.55 13.09h2.27v5.37h-2.27zM48.97 112.78h1.39v3.92h-1.39zM46.1 126.79h2.04v3.57h-2.04zM24.01 69.19h1.2v6.67h-1.2zM10.27 143.98h1.22v2.52h-1.22zM22.98 112.86h1.03v3.29h-1.03zM13.09 75.41h1.41v5.93h-1.41zM11.32 30.45h1.48v2.64h-1.48zM33.7 46.13h1.96v2.73h-1.96zM17.87 191.49h1.84v5.28h-1.84zM2.34 83.63h1.85v4.79h-1.85zM47.76 178.11h1.23v4.35h-1.23zM48.11 111.25h0.9v5.4h-0.9zM21.93 200.19h0.95v6.33h-0.95zM46.75 13.92h2.2v6.14h-2.2zM6.8 78.47h2.07v3.53h-2.07zM22.78 163.5h1.74v2.02h-1.74zM15.05 199.98h1.59v4.64h-1.59zM33.07 0.12h1.2v5.41h-1.2zM49.45 192.46h2.39v3.18h-2.39zM19.95 90.96h2.24v6.28h-2.24zM1.49 27.89h1.35v6.68h-1.35zM35.35 197.9h2.33v6.03h-2.33zM22.48 184.03h1.64v6.18h-1.64zM29.71 163.88h0.91v4.19h-0.91zM49.28 85.9h1.48v5.4h-1.48zM44.19 99.18h1.12v2.15h-1.12zM6.14 45.72h1.42v4.6h-1.42zM44.03 51.11h1.18v3.28h-1.18zM28.73 5.72h0.94v6.33h-0.94zM32.82 158.84h1.88v5.43h-1.88zM37.9 129.62h1.48v3.12h-1.48zM18.81 143.47h1.93v2.92h-1.93zM24.11 155.05h1.42v5.01h-1.42zM42.29 63.99h1.36v4.49h-1.36zM6.83 175.96h1.08v5.18h-1.08zM27.31 31.44h1.24v6.52h-1.24zM24.68 130.26h1.63v5.41h-1.63zM8.9 162.5h1.39v6.8h-1.39zM3.43 27.14h0.84v4.54h-0.84zM15.67 82.16h1.74v6.52h-1.74zM17.81 72.21h1.56v5.03h-1.56zM17.71 168.3h2.17v4.78h-2.17zM0.76 63h2.4v4.16h-2.4zM9.97 164.52h2.24v2.86h-2.24zM11.63 79.23h0.98v6.25h-0.98zM39.25 91.17h1.75v2.56h-1.75zM3.87 168.35h2.03v5.82h-2.03zM29.73 42.6h2.11v3.21h-2.11zM19.12 109.12h1.66v5.76h-1.66zM32.19 169.55h1.01v6.32h-1.01zM4.66 113.95h0.93v5.73h-0.93zM5.44 96.49h1.17v6.51h-1.17zM3.28 137.6h1.55v3.93h-1.55zM44.98 70.02h2.36v3.8h-2.36zM49.77 160.74h1.24v4.27h-1.24zM22.83 3.1h1.81v2.2h-1.81zM12.57 21.49h0.9v3.88h-0.9zM47.01 187.41h1.62v5.91h-1.62zM49.07 87.88h1.48v2.89h-1.48zM28.49 194.65h1.35v6.12h-1.35zM7.73 192.21h1.92v6.73h-1.92zM15.27 50.05h1.67v5.48h-1.67zM49.11 24.79h1.27v2.85h-1.27zM10.48 43.87h1.19v5.17h-1.19zM0.52 153.42h1.2v3.17h-1.2zM45.45 115.76h1.85v3.55h-1.85zM11.77 164.89h1.15v6.83h-1.15zM42.6 87.7h2.11v2.01h-2.11zM22.94 49.24h1.6v6.73h-1.6zM23.44 145.13h0.88v6.43h-0.88zM47.35 190.53h1.83v6.9h-1.83zM15.57 25.33h1.61v6.55h-1.61zM49.18 67.7h1.82v2.14h-1.82zM16.44 111.29h1.48v3.45h-1.48zM17.27 51.39h2.08v2.07h-2.08zM22.24 193.36h2.33v4.19h-2.33zM20.35 48.9h1.42v3.92h-1.42zM25.71 118.36h1.93v3.43h-1.93zM24.24 194.53h2.03v5.7h-2.03zM35.77 92.6h2.31v6.69h-2.31zM24.17 152.76h1.38v6.3h-1.38zM0.92 150.91h1.42v3.83h-1.42zM37.11 171.4h1.26v4.47h-1.26zM11.66 190.58h2.31v5.32h-2.31zM47.65 174.52h0.89v4.06h-0.89zM8.97 8.03h1.75v6.34h-1.75zM2.03 66.33h1.27v6.65h-1.27zM44.25 22.14h1.61v3.03h-1.61zM0.63 45.3h0.94v6.99h-0.94zM17.1 116.39h1.45v6.4h-1.45zM41.81 3.35h2.09v5.09h-2.09zM43.25 5.29h1.67v2.1h-1.67zM31.94 2.88h0.95v4.15h-0.95zM16.36 8.73h1.82v2.51h-1.82zM38.83 65.85h1.96v6.16h-1.96zM41.81 197.29h1.2v6.81h-1.2zM34.51 160.37h1.46v6.4h-1.46zM25.32 55.82h1.62v5.92h-1.62zM34.24 69.74h1.56v2.21h-1.56zM26.98 64.67h1.09v5.96h-1.09zM21.3 111.45h2.28v6.69h-2.28zM50.96 105.49h0.8v3.78h-0.8zM0.86 12.83h2.39v2.14h-2.39zM50.87 155.86h0.92v5.78h-0.92zM19.33 26.96h1.77v3.91h-1.77zM41.27 111.91h1.44v2.61h-1.44zM15.3 178.14h1.4v6.26h-1.4zM30 129.96h1.95v5.14h-1.95zM28.02 195.51h2.24v6.98h-2.24zM45.23 129.79h1.19v6.63h-1.19zM19.48 67.99h0.98v6.44h-0.98zM32.3 47.11h2.32v2.44h-2.32zM5.34 100.99h2.19v3.08h-2.19zM14.29 59.76h1.53v5.76h-1.53zM6.74 115.44h1.27v4.75h-1.27zM12.88 98.49h2.11v5.44h-2.11zM39.12 0.15h0.95v4.36h-0.95zM14.14 64.96h1.84v6.61h-1.84zM13.6 128.25h1.89v2.78h-1.89zM10.07 101.97h1.63v2.84h-1.63zM34.38 110.26h2.19v3h-2.19zM42.02 21.15h1.24v4.07h-1.24zM5.59 85.4h1.68v4.39h-1.68zM1.55 117.1h1.07v4.02h-1.07zM46.94 51.4h2.09v6.37h-2.09zM35.98 97.4h2.08v3.79h-2.08zM48.36 96.23h1.99v4h-1.99zM36.63 43.71h2.08v2.9h-2.08zM33.9 119.32h1.45v3.9h-1.45zM2.06 97.21h1.24v6.67h-1.24zM11.25 196.49h1.01v2.54h-1.01zM29.8 171.31h0.84v5.6h-0.84zM46.42 29.49h2.16v2.61h-2.16zM35.91 119.22h0.99v3.19h-0.99zM23.98 67.65h1.9v3.08h-1.9zM35 92.17h2.34v4.84h-2.34zM11.59 153.2h0.99v2.48h-0.99zM17.5 27.25h1.12v4.4h-1.12zM46.79 160.65h1.39v4.45h-1.39zM12.15 72.91h1.5v3.47h-1.5zM3.78 38.81h1.65v6.85h-1.65zM3.42 4.4h1.43v4.83h-1.43zM41.75 139.83h1.69v2.09h-1.69zM24.58 192.33h1.55v6.99h-1.55zM21.38 110.44h1.15v2.39h-1.15zM35.83 60.71h1.86v2.63h-1.86zM38.75 9.18h2.31v5.98h-2.31zM22.79 7.18h0.89v2.16h-0.89zM51.06 97.02h1.03v2.29h-1.03zM14.32 22.29h1.22v2.75h-1.22zM41.03 15.45h2.07v6.62h-2.07zM19.98 159.21h1.77v6.27h-1.77zM38.34 88.39h0.82v4.59h-0.82zM41.75 57.88h0.96v6.85h-0.96zM31.06 147.77h1.97v2.84h-1.97zM41.78 85h1.76v4.19h-1.76zM7.71 161.88h0.91v2.77h-0.91zM29.7 14.27h0.9v6.83h-0.9zM11.71 114.43h2.31v6.95h-2.31zM3.88 184.05h1.17v2.68h-1.17zM9 59.03h1.16v3.02h-1.16zM9.19 11.88h2.31v3.05h-2.31zM41.36 195.59h1.93v2.52h-1.93zM41.06 100.55h1.24v4.34h-1.24zM51.05 48.45h1.31v6.58h-1.31zM41.48 71.8h2.15v2.19h-2.15zM10.45 84.3h2.38v2.13h-2.38zM6.72 11.95h1.61v5.87h-1.61zM48.48 107.18h1.19v2.5h-1.19zM13.54 93.54h1.12v3.61h-1.12zM11 140.88h1.32v5.13h-1.32zM4.09 98.4h2.26v5.77h-2.26zM47.22 22.9h2.11v2.35h-2.11zM44.19 5.68h0.97v2.04h-0.97zM24.6 204.43h1.55v4.95h-1.55zM20.05 32.97h1.76v2.02h-1.76zM33.28 91.84h2.23v3.14h-2.23zM12.95 132.87h1.5v4.69h-1.5zM41.32 19.97h1.76v6.06h-1.76zM48.93 118.48h2.11v3.61h-2.11zM27.95 105.05h1.11v4.6h-1.11zM27.56 163.72h1.42v4.93h-1.42zM0.52 153.9h1.35v4.28h-1.35zM26.65 116.47h0.89v6.37h-0.89zM5.07 32.26h1.42v4.76h-1.42zM25.56 102.34h1.66v3.5h-1.66zM0.95 136.08h2.37v5.25h-2.37zM18.62 185.8h1.31v2.91h-1.31zM43.33 106.42h2.07v4.29h-2.07zM44.34 139.37h1.04v5.54h-1.04zM6.66 50.72h1.27v4.38h-1.27zM37.1 98.68h0.91v6.82h-0.91zM23.76 51.64h1.89v5.48h-1.89zM19.3 46.26h1.59v4.7h-1.59zM11.7 26.34h1.73v5.25h-1.73zM36.78 167.26h2.01v6.93h-2.01zM29.3 95.13h1.96v3.95h-1.96zM49.76 27h2.36v2.56h-2.36zM48.16 180.83h1.29v4.86h-1.29zM37.95 62.94h2.02v5.21h-2.02z" fill="#fff"/></g></g><polygon points="884.9,127.4 937.3,74.4 961.7,74.4 961.7,74.41 909.3,127.4" fill="#A2C5E8"/><rect x="884.9" y="126.8" width="24.4" height="210.5" fill="#5B9BD5"/><path d="M949.2,74.4 L896.8,126.8 L896.8,337.3" fill="none" stroke="#1d3550" stroke-width="1.25" stroke-dasharray="5.6,3.6"/><polygon points="930.6,126.8 983,74.4 983.6,74.4 983.6,284.9 930.6,337.3" fill="#2F80C9"/><polygon points="919.3,127.4 971.7,74.4 983.6,74.4 983.6,74.41 931.2,127.4" fill="#A2C5E8"/><rect x="919.3" y="126.8" width="11.9" height="210.5" fill="#5B9BD5"/><path d="M97.8,74.3 L154.7,17.4 L1006,17.4 L949.7,74" fill="none" stroke="#525252" stroke-width="3" stroke-linejoin="round" marker-end="url(#ag)"/><path d="M162,95.8 L206.35,51.45 L906.4,51.45 L862,95.5" fill="none" stroke="#525252" stroke-width="3" stroke-linejoin="round" marker-end="url(#ag)"/><path d="M240,118.9 L273.4,85.5 L791.8,85.5 L757.8,118.3" fill="none" stroke="#525252" stroke-width="3" stroke-linejoin="round" marker-end="url(#ag)"/><path d="M337.5,150.3 L368.4,119.4 L663.5,119.4 L631.5,150.2" fill="none" stroke="#525252" stroke-width="3" stroke-linejoin="round" marker-end="url(#ag)"/><polygon points="254,7.4 260,1.4 260.6,1.4 260.6,27.7 254,33.7" fill="#52527E"/><polygon points="168.2,8 174.2,1.4 260.6,1.4 260.6,1.41 254.6,8" fill="#9D9DC0"/><rect x="168.2" y="7.4" width="86.4" height="26.3" fill="#646497"/><text x="211.4" y="26.9" fill="#fff" font-size="18" text-anchor="middle">CBAM</text><circle cx="960" cy="17.4" r="14.6" fill="#FFC000" stroke="#F4B183" stroke-width="3.2"/><text x="960.2" y="24.43" fill="#fff" stroke="#fff" stroke-width="0.55" font-size="21" font-weight="normal" text-anchor="middle">C</text><polygon points="345.8,41.45 351.8,35.45 352.4,35.45 352.4,61.75 345.8,67.75" fill="#52527E"/><polygon points="260,42.05 266,35.45 352.4,35.45 352.4,35.46 346.4,42.05" fill="#9D9DC0"/><rect x="260" y="41.45" width="86.4" height="26.3" fill="#646497"/><text x="303.2" y="60.95" fill="#fff" font-size="18" text-anchor="middle">CBAM</text><circle cx="839.9" cy="51.45" r="14.6" fill="#FFC000" stroke="#F4B183" stroke-width="3.2"/><text x="840.1" y="58.48" fill="#fff" stroke="#fff" stroke-width="0.55" font-size="21" font-weight="normal" text-anchor="middle">C</text><polygon points="438.3,75.5 444.3,69.5 444.9,69.5 444.9,95.8 438.3,101.8" fill="#52527E"/><polygon points="352.5,76.1 358.5,69.5 444.9,69.5 444.9,69.51 438.9,76.1" fill="#9D9DC0"/><rect x="352.5" y="75.5" width="86.4" height="26.3" fill="#646497"/><text x="395.7" y="95" fill="#fff" font-size="18" text-anchor="middle">CBAM</text><circle cx="719.8" cy="85.5" r="14.6" fill="#FFC000" stroke="#F4B183" stroke-width="3.2"/><text x="720" y="92.53" fill="#fff" stroke="#fff" stroke-width="0.55" font-size="21" font-weight="normal" text-anchor="middle">C</text><polygon points="529.6,109.4 535.6,103.4 536.2,103.4 536.2,129.7 529.6,135.7" fill="#52527E"/><polygon points="443.8,110 449.8,103.4 536.2,103.4 536.2,103.41 530.2,110" fill="#9D9DC0"/><rect x="443.8" y="109.4" width="86.4" height="26.3" fill="#646497"/><text x="487" y="128.9" fill="#fff" font-size="18" text-anchor="middle">CBAM</text><circle cx="599.3" cy="119.4" r="14.6" fill="#FFC000" stroke="#F4B183" stroke-width="3.2"/><text x="599.5" y="126.44" fill="#fff" stroke="#fff" stroke-width="0.55" font-size="21" font-weight="normal" text-anchor="middle">C</text><g transform="matrix(1,-1,0,1,626.4,349.6)"><clipPath id="c6"><polygon points="0,0 27,0 27,101 0,101"/></clipPath><polygon points="0,0 27,0 27,101 0,101" fill="#000"/><g clip-path="url(#c6)"><path d="M12.15 1.33h0.85v5.77h-0.85zM14.15 1.96h0.85v4.42h-0.85zM16.28 2.62h0.85v5.26h-0.85zM18.18 1.47h0.85v3.81h-0.85zM19.98 2.17h0.85v4h-0.85zM22.1 1.46h0.85v4.46h-0.85zM23.66 3h0.85v5.91h-0.85zM25.84 2.23h0.85v3.9h-0.85zM9.45 13.13h7.56v1.52h-7.56zM9.45 13.13h1.52v20.2h-1.52zM15.49 13.13h1.52v20.2h-1.52zM9.45 31.81h7.56v1.52h-7.56zM12.1 19.19h1.52v9.09h-1.52zM14.36 19.19h1.52v9.09h-1.52zM2.63 8.46h3.21v3.68h-3.21zM8.57 8.42h1.96v2.96h-1.96zM21.22 9.17h3.2v2.9h-3.2zM2.53 16.14h2.31v3.95h-2.31zM7.18 15.66h2.67v5.68h-2.67zM12.44 16.25h3.48v3.13h-3.48zM18.83 15.52h2.17v5.49h-2.17zM23.84 15.93h1.8v5.17h-1.8zM5.63 24.4h2.34v3.22h-2.34zM11.49 24.55h2.04v5.35h-2.04zM18.38 24.95h3v2.53h-3zM23.8 25.33h2.16v5.41h-2.16zM3.39 33.45h1.99v5.24h-1.99zM8.9 32.99h2.48v5.27h-2.48zM14.08 34.51h2.88v3.26h-2.88zM18.44 32.94h2.84v4.52h-2.84zM0.27 41.04h2.3v3.25h-2.3zM5.56 40.42h2.14v4.26h-2.14zM9.52 40.26h2.65v4.42h-2.65zM19.99 40.89h2.73v3.35h-2.73zM24.74 40.51h1.77v3.96h-1.77zM1.43 46.42h1.52v3.23h-1.52zM5.58 46.42h1.72v3.37h-1.72zM9.98 46.76h2.79v5.63h-2.79zM16.63 46.85h2.79v5.02h-2.79zM22.33 46.79h2.3v4.32h-2.3zM0.14 53.93h2.65v5.18h-2.65zM5.29 54.16h2.36v4.65h-2.36zM9.28 53.98h2.66v5.39h-2.66zM20.95 53.83h2.93v3.95h-2.93zM2.82 59.94h2.12v3.96h-2.12zM7.68 60.24h2.96v4.97h-2.96zM15.43 60.05h2.56v4.79h-2.56zM21.67 60.45h2.83v3.29h-2.83zM0.79 69.16h1.87v3h-1.87zM5.55 69.34h2.22v3.63h-2.22zM11.48 69.2h5.51v3.29h-5.51zM19.61 69.17h2.64v3.53h-2.64zM2.34 77.66h1.96v4h-1.96zM13.21 77.84h1.82v5.41h-1.82zM18.26 77.72h2.79v4.58h-2.79zM1.46 85.88h2.07v3.02h-2.07zM6.13 87.61h3.3v2.27h-3.3zM12.13 85.99h4.92v2.99h-4.92zM20.45 86.44h2.18v4.37h-2.18zM24.46 86.61h1.93v5.28h-1.93zM4.19 91.8h2.35v2.93h-2.35zM13.51 92.52h2.53v4.58h-2.53zM18.99 91.8h1.93v3.63h-1.93z" fill="none" stroke="#fff" stroke-width="0.65"/></g></g><g transform="matrix(1,-1,0,1,723.5,366.5)"><clipPath id="c7"><polygon points="0,0 34,0 34,127.5 0,127.5"/></clipPath><polygon points="0,0 34,0 34,127.5 0,127.5" fill="#000"/><g clip-path="url(#c7)"><path d="M15.3 2.85h0.9v6.85h-0.9zM17.61 1.17h0.9v5.78h-0.9zM19.55 2.06h0.9v4.39h-0.9zM21.31 1.89h0.9v4.66h-0.9zM23.27 1.05h0.9v4.26h-0.9zM25.44 1.84h0.9v5.54h-0.9zM27.63 1.72h0.9v4.17h-0.9zM29.85 2.18h0.9v5.97h-0.9zM31.95 2.94h0.9v5.09h-0.9zM11.9 16.57h9.52v1.6h-9.52zM11.9 16.57h1.6v25.5h-1.6zM19.82 16.57h1.6v25.5h-1.6zM11.9 40.48h9.52v1.6h-9.52zM15.23 24.22h1.6v11.47h-1.6zM18.09 24.22h1.6v11.47h-1.6zM1.72 8.72h1.92v4.42h-1.92zM6.61 8.32h2.05v3.54h-2.05zM12.21 8.28h1.94v3.12h-1.94zM19.4 8.55h2.23v5.33h-2.23zM23.78 8.48h5.12v3.69h-5.12zM2.14 16.45h2.93v5.06h-2.93zM14.81 15.47h1.88v2.79h-1.88zM18.37 15.69h3.11v5.85h-3.11zM23.24 15.73h2.56v5.44h-2.56zM30.97 15.47h2.31v3.84h-2.31zM5.18 25.81h2.37v5.31h-2.37zM12.2 25.5h2.58v5.51h-2.58zM18.66 25.82h2.56v3.71h-2.56zM23.89 26.83h3.01v2.88h-3.01zM30.77 25.34h2.43v4.27h-2.43zM2.07 33.81h2.54v3.89h-2.54zM9.98 33.49h5.02v3.29h-5.02zM17.3 33.29h3.14v4.02h-3.14zM25.68 33.12h2.19v3.27h-2.19zM2.55 40.83h2.13v2.56h-2.13zM8.2 40.92h2.01v5.51h-2.01zM13.56 42.66h3.88v2.34h-3.88zM20.57 40.83h2.41v2.77h-2.41zM24.53 41.54h2.82v4.41h-2.82zM1.77 48.07h1.93v5.57h-1.93zM6.27 48.3h2.55v5.58h-2.55zM11.22 49.64h5.78v2.76h-5.78zM22.77 48.66h5.49v2.27h-5.49zM1.22 56.87h2.4v5.47h-2.4zM6.15 56.45h2.74v4.34h-2.74zM12.45 56.28h2.04v3.43h-2.04zM17.05 56.28h2.48v3.49h-2.48zM22.11 56.39h4.17v2.89h-4.17zM27.87 56.28h2.24v3.56h-2.24zM0.51 63.66h2.62v4.54h-2.62zM4.93 63.43h2v4.92h-2zM13 63.39h2.29v5.93h-2.29zM17.5 64.08h2.91v3.89h-2.91zM26.77 63.12h2.17v2.67h-2.17zM0.24 71.47h5.16v3.92h-5.16zM8.18 71.09h3.19v4.94h-3.19zM13.36 70.56h3.21v3.68h-3.21zM18.62 70.21h3.43v3.96h-3.43zM28.49 71.8h4.91v2.45h-4.91zM5.78 79.94h4.84v3.7h-4.84zM15.98 79.95h3.17v4.84h-3.17zM24.72 80.36h3.1v5.4h-3.1zM1.07 87.95h3.18v5.3h-3.18zM6.37 87.85h1.96v2.74h-1.96zM11.2 88.63h2.63v5.97h-2.63zM17.17 88.3h2.69v5.28h-2.69zM23.66 87.95h2.89v4.01h-2.89zM29.12 88.61h4.21v3.4h-4.21zM7.64 96.51h2.83v5.32h-2.83zM19.32 96.52h2.53v5.86h-2.53zM24.91 95.89h1.9v3.61h-1.9zM29.81 96.22h2.02v3.03h-2.02zM1.46 102.58h2.28v3.5h-2.28zM7.35 103.57h2.65v3.68h-2.65zM14.68 103.51h2.77v3.77h-2.77zM21.39 102.58h2.48v2.72h-2.48zM27.2 103.76h4.02v3.18h-4.02zM1.13 109.14h3.35v2.31h-3.35zM6.27 108.91h1.86v2.65h-1.86zM11.3 109.64h2.85v4.37h-2.85zM23.96 109.64h2.88v5.35h-2.88zM0.13 115.99h5.74v3.73h-5.74zM11.09 115.22h3.03v4.73h-3.03zM18.09 116.16h5.42v2.66h-5.42zM25.44 115.32h2.91v3.35h-2.91zM30.82 115.29h3.15v5.6h-3.15z" fill="none" stroke="#fff" stroke-width="0.65"/></g></g><g transform="matrix(1,-1,0,1,744.5,367)"><clipPath id="c8"><polygon points="0,0 34,0 34,127 0,127"/></clipPath><polygon points="0,0 34,0 34,127 0,127" fill="#000"/><g clip-path="url(#c8)"><path d="M15.3 2.42h0.99v7.17h-0.99zM17.22 3h0.99v5.04h-0.99zM19.57 1.18h0.99v6.9h-0.99zM21.46 2.41h0.99v6.79h-0.99zM23.9 1.88h0.99v7.26h-0.99zM26.53 1.23h0.99v6.11h-0.99zM29.13 2.48h0.99v5.87h-0.99zM31.16 2.91h0.99v4.68h-0.99zM11.9 16.51h9.52v1.76h-9.52zM11.9 16.51h1.76v25.4h-1.76zM19.66 16.51h1.76v25.4h-1.76zM11.9 40.15h9.52v1.76h-9.52zM15.23 24.13h1.76v11.43h-1.76zM18.09 24.13h1.76v11.43h-1.76zM0.52 9.04h1.89v4.53h-1.89zM3.87 9.17h1.89v4.53h-1.89zM7.23 9.62h1.89v4.53h-1.89zM10.58 9.14h1.89v4.53h-1.89zM16.26 9.82h2.08v7.26h-2.08zM19.59 8.9h2.08v7.26h-2.08zM22.91 9.34h2.08v7.26h-2.08zM28.31 9.09h1.85v6.23h-1.85zM31.69 9.36h1.85v6.23h-1.85zM1.03 20.03h2.02v6.21h-2.02zM4.38 19.39h2.02v6.21h-2.02zM9.88 19.88h2.12v7.75h-2.12zM13.11 19.59h2.12v7.75h-2.12zM20.16 19.74h1.95v6.47h-1.95zM23.65 19.56h1.95v6.47h-1.95zM27.15 19.55h1.95v6.47h-1.95zM1.32 27.1h1.66v5.63h-1.66zM4.5 26.75h1.66v5.63h-1.66zM7.67 26.33h1.66v5.63h-1.66zM13.77 28.29h6.09v3.47h-6.09zM22.09 26.34h1.42v5.3h-1.42zM24.65 27.38h1.42v5.3h-1.42zM30.21 26.87h1.41v4.94h-1.41zM0.84 36.57h1.65v6.94h-1.65zM4.1 35.92h1.65v6.94h-1.65zM7.36 35.84h1.65v6.94h-1.65zM10.61 36.34h1.65v6.94h-1.65zM16.02 36.84h1.88v4.78h-1.88zM19.08 36.45h1.88v4.78h-1.88zM29.63 36.13h2.18v6.23h-2.18zM0.57 46.13h4.05v2.88h-4.05zM8.14 45.76h1.55v6.23h-1.55zM10.95 45.48h1.55v6.23h-1.55zM13.76 45.83h1.55v6.23h-1.55zM19.87 45.88h2.02v7.41h-2.02zM23.5 45.53h2.02v7.41h-2.02zM29.77 45.63h1.73v4.53h-1.73zM1.79 53.93h6.53v4.22h-6.53zM11.64 52.25h2.36v3.61h-2.36zM16.23 53.21h1.46v6.13h-1.46zM19.08 52.43h1.46v6.13h-1.46zM21.92 53.19h1.46v6.13h-1.46zM26.81 52.25h1.73v3.55h-1.73zM30.2 52.92h1.44v5.29h-1.44zM2.41 61.64h1.9v3.7h-1.9zM6.91 62.16h2.17v6.55h-2.17zM10.71 62.04h2.17v6.55h-2.17zM14.52 61.86h2.17v6.55h-2.17zM22.29 63.45h6.55v2.75h-6.55zM0.24 70.75h4.11v4.24h-4.11zM7.72 70.43h1.65v7.37h-1.65zM10.94 69.89h1.65v7.37h-1.65zM16.25 70.7h1.89v6.07h-1.89zM19.3 70.08h1.89v6.07h-1.89zM26.61 70.58h2.08v6.34h-2.08zM30.03 70.42h2.08v6.34h-2.08zM0.91 77.35h1.82v6.42h-1.82zM4.06 77.65h1.82v6.42h-1.82zM7.21 77.41h1.82v6.42h-1.82zM10.36 77.97h1.82v6.42h-1.82zM17.02 76.96h1.88v2.92h-1.88zM21.74 78.01h1.41v8.15h-1.41zM24.71 77.89h1.41v8.15h-1.41zM27.68 77.64h1.41v8.15h-1.41zM30.65 77.51h1.41v8.15h-1.41zM6.39 86.33h1.57v6.71h-1.57zM9.46 86.29h1.57v6.71h-1.57zM14.62 86.01h2.04v7.31h-2.04zM17.77 86.49h2.04v7.31h-2.04zM1.08 94.06h5.17v3.47h-5.17zM10.56 92.6h1.91v2.97h-1.91zM14.52 93.04h2.13v6.04h-2.13zM18.07 92.65h2.13v6.04h-2.13zM21.62 93.58h2.13v6.04h-2.13zM29.5 92.6h1.79v3.51h-1.79zM0.52 102.67h1.47v4.72h-1.47zM3.26 103.1h1.47v4.72h-1.47zM6.01 103.09h1.47v4.72h-1.47zM8.75 103.55h1.47v4.72h-1.47zM14.77 102.97h2.13v5.34h-2.13zM18.31 102.75h2.13v5.34h-2.13zM21.86 103.02h2.13v5.34h-2.13zM29.69 103.22h2.09v4.4h-2.09zM3.55 112.43h2.04v5.98h-2.04zM6.88 112.37h2.04v5.98h-2.04zM13.91 111.87h2.7v4.22h-2.7zM20.35 112.16h1.69v6.71h-1.69zM23.24 112.87h1.69v6.71h-1.69zM26.12 111.99h1.69v6.71h-1.69zM31.08 112.12h1.39v7.85h-1.39zM2.81 119.6h1.94v4.97h-1.94zM5.92 120.27h1.94v4.97h-1.94zM9.03 119.7h1.94v4.97h-1.94zM15.63 120.04h1.55v5.42h-1.55zM18.46 119.7h1.55v5.42h-1.55zM21.29 119.37h1.55v5.42h-1.55zM29.51 121.04h3.55v3.35h-3.55z" fill="#fff"/></g></g><g transform="matrix(1,-1,0,1,823.5,388)"><clipPath id="c9"><polygon points="0,0 44,0 44,167.3 0,167.3"/></clipPath><polygon points="0,0 44,0 44,167.3 0,167.3" fill="#000"/><g clip-path="url(#c9)"><path d="M19.8 1.75h1.03v7.8h-1.03zM22.42 1.43h1.03v7.61h-1.03zM24.84 1.08h1.03v7.89h-1.03zM26.92 1.61h1.03v6.06h-1.03zM29.3 1.25h1.03v6.97h-1.03zM31.9 2.02h1.03v7.34h-1.03zM34.32 2.65h1.03v5.22h-1.03zM36.49 1.94h1.03v4.96h-1.03zM39.22 2.27h1.03v4.94h-1.03zM41.6 1.83h1.03v5.25h-1.03zM15.4 21.75h12.32v1.84h-12.32zM15.4 21.75h1.84v33.46h-1.84zM25.88 21.75h1.84v33.46h-1.84zM15.4 53.37h12.32v1.84h-12.32zM19.71 31.79h1.84v15.06h-1.84zM23.41 31.79h1.84v15.06h-1.84zM0.24 9.25h2.27v6.47h-2.27zM7.1 9.78h2.77v5.15h-2.77zM12.98 10.14h4.43v2.63h-4.43zM21.47 9.91h2.84v4.21h-2.84zM27.05 10.21h2.22v5.81h-2.22zM33.16 9.39h3.6v4.74h-3.6zM40.13 9.77h2.8v4.5h-2.8zM1.55 18.22h1.85v4.18h-1.85zM10.08 19.08h2.44v3.51h-2.44zM14.99 19.41h5.49v2.6h-5.49zM28.67 18.4h3.63v5.87h-3.63zM35.08 18.47h3.03v5.85h-3.03zM2.92 29.84h4.36v4.02h-4.36zM9.85 28.57h3.37v4.43h-3.37zM17.41 28.58h2.9v3.46h-2.9zM26.88 28.83h2.86v4.69h-2.86zM32.32 28.25h2.62v3.5h-2.62zM36.86 28.85h2.28v5.46h-2.28zM3.09 35.94h2.85v4.44h-2.85zM12.35 35.94h2.66v2.93h-2.66zM22.65 35.94h1.81v3.02h-1.81zM28.91 36.25h2.71v5.6h-2.71zM35.97 37.08h2.66v3.85h-2.66zM0.61 47.17h2.79v5.57h-2.79zM5.76 47.21h3.91v2.93h-3.91zM17.59 46.59h3.53v4.06h-3.53zM22.96 47.09h5.99v3.23h-5.99zM36.05 46.11h2.12v3.7h-2.12zM40.03 47.02h2.95v4.35h-2.95zM0.07 55.48h2.02v3.42h-2.02zM7.05 55.97h2.5v6.51h-2.5zM11.47 56.03h3.3v3.8h-3.3zM18.2 56.55h3.08v6.66h-3.08zM25.82 56.16h2.76v3.91h-2.76zM33.18 55.48h2.03v3.52h-2.03zM3.4 65.39h2.23v3.36h-2.23zM9.86 65.39h2.35v2.98h-2.35zM18.58 65.39h2.69v3.8h-2.69zM25.21 66.42h2.54v4.62h-2.54zM30.27 66.02h2.26v5.03h-2.26zM36.34 65.39h2.65v2.92h-2.65zM3.24 76.59h5.92v3.36h-5.92zM16.31 77.41h6.36v3.75h-6.36zM28.99 76.81h3.57v5.4h-3.57zM35.87 75.78h2.79v3.9h-2.79zM7.91 85.82h2.5v4.58h-2.5zM12.94 85.88h3.59v6.24h-3.59zM20.67 86.61h3.02v6.49h-3.02zM30.9 86.03h2.25v6.05h-2.25zM35.89 85.49h2.28v4.32h-2.28zM0.81 96.72h1.96v4.01h-1.96zM6.56 97.49h3.65v6.3h-3.65zM13.75 96.72h1.75v3.36h-1.75zM18.05 96.72h2.01v3.06h-2.01zM25.99 97.45h4.86v2.65h-4.86zM0.96 109.51h3.96v3.7h-3.96zM8.86 108.59h3v4.75h-3zM20.39 108.31h2.94v5.35h-2.94zM25.99 108.84h2.85v6.58h-2.85zM31.03 108.18h3.4v3.56h-3.4zM38.57 108.9h2.94v3.59h-2.94zM4.43 115.89h1.73v2.95h-1.73zM12.97 116.54h3.62v4.54h-3.62zM18.82 116.17h2.19v6.06h-2.19zM24.99 116.79h2.87v4.3h-2.87zM31.57 115.93h2.75v6.09h-2.75zM36.2 116.16h3.49v6.52h-3.49zM3.32 123.07h3.48v5.96h-3.48zM8.76 123.09h2.11v5.6h-2.11zM16.68 123.06h2.61v4.2h-2.61zM21.29 124.1h2.86v6.06h-2.86zM27.54 123.15h2.71v6.71h-2.71zM34.79 123.45h2.83v3.69h-2.83zM1.23 132.53h2.62v5.62h-2.62zM7.06 132.72h2.34v5.01h-2.34zM14.78 133.16h3.6v6.86h-3.6zM20.11 132.3h2.01v4.19h-2.01zM25.8 132.3h2.04v4.54h-2.04zM34.13 133.31h2.32v4.64h-2.32zM39.74 133.33h2.91v6.5h-2.91zM1.76 142.47h3.47v6.72h-3.47zM9.25 143.03h2.11v5.21h-2.11zM15.12 143.34h2.93v4.38h-2.93zM21.06 142.8h2.34v5.98h-2.34zM27.75 144.26h5.82v3.29h-5.82zM6.24 149.93h2.53v3.53h-2.53zM13.01 150.72h6.73v3.99h-6.73zM22.54 150.32h2.32v6.44h-2.32zM27.22 150.91h2.16v6.2h-2.16zM32 149.93h2.2v4.56h-2.2zM37.9 150.78h2.19v3.95h-2.19zM0.66 159.18h2.31v5.07h-2.31zM6.85 160.03h5.11v3.31h-5.11zM15.42 159.01h3.12v4.45h-3.12zM20.82 158.44h3.39v5.06h-3.39zM27.65 159.4h3.6v3.74h-3.6zM34.1 158.31h2.48v3.94h-2.48z" fill="none" stroke="#fff" stroke-width="0.65"/></g></g><g transform="matrix(1,-1,0,1,841.1,387.3)"><clipPath id="c10"><polygon points="0,0 44.3,0 44.3,166.8 0,166.8"/></clipPath><polygon points="0,0 44.3,0 44.3,166.8 0,166.8" fill="#000"/><g clip-path="url(#c10)"><path d="M19.93 2.49h1.03v5.3h-1.03zM21.96 2.2h1.03v4.8h-1.03zM24.52 2.53h1.03v4.74h-1.03zM26.99 2.01h1.03v6.79h-1.03zM29.7 2.97h1.03v6.01h-1.03zM32.32 2.57h1.03v7.95h-1.03zM34.19 2.88h1.03v5.37h-1.03zM36.15 2.19h1.03v7.49h-1.03zM38.87 1.73h1.03v7.46h-1.03zM40.73 2.94h1.03v5.61h-1.03zM43.07 1.25h1.03v4.75h-1.03zM15.5 21.68h12.4v1.84h-12.4zM15.5 21.68h1.84v33.36h-1.84zM26.07 21.68h1.84v33.36h-1.84zM15.5 53.2h12.4v1.84h-12.4zM19.85 31.69h1.84v15.01h-1.84zM23.57 31.69h1.84v15.01h-1.84zM1.94 9.2h2.21v4.34h-2.21zM11.73 10.1h1.47v6.81h-1.47zM14.42 9.25h1.47v6.81h-1.47zM19.46 9.2h2.78v4.35h-2.78zM24.9 9.31h2.03v4.76h-2.03zM28.42 9.48h2.03v4.76h-2.03zM31.93 9.29h2.03v4.76h-2.03zM3.15 19.04h1.93v8.49h-1.93zM6.64 18.87h1.93v8.49h-1.93zM10.14 18.99h1.93v8.49h-1.93zM21.82 19.2h1.41v6.33h-1.41zM24.39 19.35h1.41v6.33h-1.41zM26.97 18.93h1.41v6.33h-1.41zM29.54 19.05h1.41v6.33h-1.41zM34.12 19.79h2.16v6.8h-2.16zM37.95 19.18h2.16v6.8h-2.16zM2.16 29.49h2.27v5.83h-2.27zM5.84 30.01h2.27v5.83h-2.27zM14.06 30.83h5.86v3.6h-5.86zM25.61 30.08h1.56v6.49h-1.56zM28.51 29.6h1.56v6.49h-1.56zM36.65 30.04h1.51v4.75h-1.51zM39.74 30.11h1.51v4.75h-1.51zM5.12 38.34h2.06v5.53h-2.06zM8.52 38.06h2.06v5.53h-2.06zM11.93 38.19h2.06v5.53h-2.06zM15.33 38.48h2.06v5.53h-2.06zM21.72 38.04h2.08v8.23h-2.08zM25.4 38.65h2.08v8.23h-2.08zM29.09 38.66h2.08v8.23h-2.08zM36.76 37.92h2.1v7.81h-2.1zM40.59 38.05h2.1v7.81h-2.1zM1.74 48.37h2.03v6.48h-2.03zM5.36 48.28h2.03v6.48h-2.03zM8.98 49.39h2.03v6.48h-2.03zM12.6 48.38h2.03v6.48h-2.03zM17.95 48.26h2.87v4.19h-2.87zM25.25 49.07h2.01v4.94h-2.01zM28.96 48.67h2.01v4.94h-2.01zM32.66 48.82h2.01v4.94h-2.01zM39.52 48.26h2.62v3.31h-2.62zM2.19 58.65h1.58v5.04h-1.58zM5.01 58.03h1.58v5.04h-1.58zM7.82 58.62h1.58v5.04h-1.58zM21.51 58.28h1.65v6.39h-1.65zM24.72 58.01h1.65v6.39h-1.65zM27.93 57.87h1.65v6.39h-1.65zM33.08 57.85h5.74v2.93h-5.74zM41.32 58.25h2.18v6.02h-2.18zM0.35 69.27h3.9v3.35h-3.9zM8.71 69.24h2.25v7.2h-2.25zM12.19 68.87h2.25v7.2h-2.25zM19.25 68.17h2.18v6.88h-2.18zM22.99 68.54h2.18v6.88h-2.18zM26.73 69h2.18v6.88h-2.18zM33.39 68.15h2.14v4.15h-2.14zM38.26 68.62h1.43v6.65h-1.43zM41.27 68.24h1.43v6.65h-1.43zM2.1 78.12h5.46v2.75h-5.46zM10.37 77.38h4.88v3.14h-4.88zM18.67 76.69h1.61v6.09h-1.61zM21.88 77.08h1.61v6.09h-1.61zM25.09 76.66h1.61v6.09h-1.61zM28.3 76.76h1.61v6.09h-1.61zM33.69 77.16h6.36v3.86h-6.36zM42.61 76.66h1.64v7.87h-1.64zM2.89 86.18h2.03v4.03h-2.03zM9.16 86.36h1.57v6.07h-1.57zM11.92 87.19h1.57v6.07h-1.57zM14.69 86.41h1.57v6.07h-1.57zM17.45 86.58h1.57v6.07h-1.57zM22.11 87.13h1.85v5.26h-1.85zM25.36 86.95h1.85v5.26h-1.85zM30.44 86.6h1.43v5.97h-1.43zM33.43 86.65h1.43v5.97h-1.43zM36.42 86.52h1.43v5.97h-1.43zM39.41 87.32h1.43v5.97h-1.43zM1.22 95.02h1.62v5.66h-1.62zM4.31 95.83h1.62v5.66h-1.62zM10.15 94.72h2.24v3.45h-2.24zM14.87 96.15h6.7v3.76h-6.7zM23.61 95.58h1.46v8.23h-1.46zM26.25 94.99h1.46v8.23h-1.46zM32.66 94.99h1.58v6.79h-1.58zM35.73 95.06h1.58v6.79h-1.58zM38.8 94.84h1.58v6.79h-1.58zM4.69 104.03h1.92v7.27h-1.92zM7.85 103.47h1.92v7.27h-1.92zM15.16 103.13h2.33v4.04h-2.33zM24.89 103.91h1.55v8.13h-1.55zM27.98 103.26h1.55v8.13h-1.55zM31.06 103.78h1.55v8.13h-1.55zM38.65 104.25h1.92v4.65h-1.92zM42.2 103.58h1.92v4.65h-1.92zM3.25 114.78h1.79v7.71h-1.79zM6.27 114.35h1.79v7.71h-1.79zM9.29 114.94h1.79v7.71h-1.79zM15.69 114.12h1.5v7.08h-1.5zM18.69 114.72h1.5v7.08h-1.5zM24.91 114.75h1.51v5.68h-1.51zM28.11 114.75h1.51v5.68h-1.51zM31.31 114.14h1.51v5.68h-1.51zM34.5 114.2h1.51v5.68h-1.51zM3.19 123.14h2.18v7.8h-2.18zM7.04 123.17h2.18v7.8h-2.18zM13.67 122.91h2.2v4.65h-2.2zM17.06 123.32h2.2v4.65h-2.2zM20.46 123.66h2.2v4.65h-2.2zM23.85 123.21h2.2v4.65h-2.2zM31.24 123.27h1.64v7.78h-1.64zM34.21 122.92h1.64v7.78h-1.64zM37.19 123.15h1.64v7.78h-1.64zM3.98 133.81h1.66v6.15h-1.66zM7.13 133.93h1.66v6.15h-1.66zM10.27 134.42h1.66v6.15h-1.66zM17.42 133.76h6.19v3.8h-6.19zM27.92 134.25h2.03v5.67h-2.03zM31.26 134.41h2.03v5.67h-2.03zM34.61 133.69h2.03v5.67h-2.03zM37.96 133.7h2.03v5.67h-2.03zM1.3 145.31h2.25v8.18h-2.25zM4.93 145.15h2.25v8.18h-2.25zM8.57 145.31h2.25v8.18h-2.25zM12.21 145.06h2.25v8.18h-2.25zM18.39 144.76h1.88v3.8h-1.88zM23.95 144.9h5.94v3.53h-5.94zM33.87 145.16h2.19v6.56h-2.19zM37.45 145.65h2.19v6.56h-2.19zM3.04 153.58h5.33v3.62h-5.33zM10.24 154.15h2.01v6.44h-2.01zM13.73 153.73h2.01v6.44h-2.01zM17.23 154.28h2.01v6.44h-2.01zM20.72 153.68h2.01v6.44h-2.01zM27.86 153.25h2.44v4.19h-2.44zM32.81 153.76h1.81v4.79h-1.81zM35.88 154.4h1.81v4.79h-1.81zM38.94 153.43h1.81v4.79h-1.81zM42.01 153.61h1.81v4.79h-1.81z" fill="#fff"/></g></g><g transform="matrix(1,-1,0,1,1015.9,53)"><clipPath id="c11"><polygon points="0,0 60,0 60,198.3 0,198.3"/></clipPath><polygon points="0,0 60,0 60,198.3 0,198.3" fill="#000"/><g clip-path="url(#c11)"><path d="M27 2.3h1.3v8.85h-1.3zM30.43 1.39h1.3v6.08h-1.3zM33.71 1.67h1.3v7.42h-1.3zM36.97 1.37h1.3v9.76h-1.3zM39.86 1.14h1.3v9.79h-1.3zM42.85 1.16h1.3v9.45h-1.3zM46.06 2.48h1.3v8.66h-1.3zM49.54 1.02h1.3v10.04h-1.3zM52.6 1.51h1.3v8.46h-1.3zM55.31 2.3h1.3v8.86h-1.3zM58.24 1.2h1.3v7.5h-1.3zM21 25.78h16.8v2.32h-16.8zM21 25.78h2.32v39.66h-2.32zM35.48 25.78h2.32v39.66h-2.32zM21 63.12h16.8v2.32h-16.8zM26.88 37.68h2.32v17.85h-2.32zM31.92 37.68h2.32v17.85h-2.32zM4.05 11.67h2.27v8.54h-2.27zM7.88 13.01h2.27v8.54h-2.27zM16.25 12.87h2.41v10.86h-2.41zM20.15 12.28h2.41v10.86h-2.41zM24.06 11.62h2.41v10.86h-2.41zM27.96 11.83h2.41v10.86h-2.41zM35 11.6h2.26v4.17h-2.26zM40.19 11.77h2.13v7.54h-2.13zM43.82 11.97h2.13v7.54h-2.13zM47.44 12.41h2.13v7.54h-2.13zM55.74 12.88h1.88v7.25h-1.88zM1.62 25.87h8.07v3.27h-8.07zM14.57 24.92h2.6v6.95h-2.6zM19.07 25.86h2.6v6.95h-2.6zM23.57 25.12h2.6v6.95h-2.6zM41.15 24.69h1.86v10.14h-1.86zM44.89 25.36h1.86v10.14h-1.86zM48.63 25.1h1.86v10.14h-1.86zM56.24 25.69h2.52v9.91h-2.52zM2.04 36.91h5.41v4.02h-5.41zM13.54 37.33h7.55v5.69h-7.55zM24.88 37.08h2.44v10.52h-2.44zM28.92 37.59h2.44v10.52h-2.44zM32.97 37.58h2.44v10.52h-2.44zM41.97 37.13h2.19v5.84h-2.19zM45.76 37.07h2.19v5.84h-2.19zM56.43 37.94h2.42v6.04h-2.42zM2.37 49.26h4.93v4.91h-4.93zM12.87 47.77h8.54v4.19h-8.54zM27.18 47.69h2.3v8.27h-2.3zM31.15 47.75h2.3v8.27h-2.3zM35.11 48.22h2.3v8.27h-2.3zM39.08 47.86h2.3v8.27h-2.3zM47.24 48.66h4.82v5h-4.82zM57 46.86h2.71v8.14h-2.71zM4.04 62.83h5.65v5.25h-5.65zM13.43 61.85h1.79v6.08h-1.79zM16.8 62.24h1.79v6.08h-1.79zM20.16 61.31h1.79v6.08h-1.79zM23.52 61.54h1.79v6.08h-1.79zM36.59 63.56h4.45v3.78h-4.45zM44.15 61.32h1.84v7.23h-1.84zM47.45 61.44h1.84v7.23h-1.84zM50.76 62.07h1.84v7.23h-1.84zM54.06 62.47h1.84v7.23h-1.84zM2.12 74.43h2.71v4.9h-2.71zM8.79 74.71h2.6v7.49h-2.6zM12.98 75.03h2.6v7.49h-2.6zM17.17 75.1h2.6v7.49h-2.6zM24.03 74.43h2.74v5.01h-2.74zM32.49 75.76h2.74v6.43h-2.74zM37.34 75.06h2.74v6.43h-2.74zM42.19 74.71h2.74v6.43h-2.74zM55.86 74.43h2.66v4.01h-2.66zM3.79 86.4h2.8v10.72h-2.8zM8.45 87.32h2.8v10.72h-2.8zM16.2 86.38h2.21v5.09h-2.21zM23.54 86.95h2.38v7.79h-2.38zM27.66 87.64h2.38v7.79h-2.38zM31.78 87.19h2.38v7.79h-2.38zM38.08 86.45h7.9v5.4h-7.9zM48.76 87.63h2.58v10.78h-2.58zM53.49 86.45h2.58v10.78h-2.58zM3.59 96.31h1.96v10.75h-1.96zM7.55 96.38h1.96v10.75h-1.96zM11.52 95.79h1.96v10.75h-1.96zM20.97 98.52h7.48v3.89h-7.48zM33.98 95.97h2.18v9.64h-2.18zM38.04 96.1h2.18v9.64h-2.18zM42.1 96.74h2.18v9.64h-2.18zM51.17 96.49h2.71v7.88h-2.71zM55.6 97.02h2.71v7.88h-2.71zM1.34 106.67h2.68v9.36h-2.68zM5.99 106.7h2.68v9.36h-2.68zM10.64 106.9h2.68v9.36h-2.68zM19.46 105.46h3.24v5.37h-3.24zM24.9 107.56h5.14v3.92h-5.14zM35.71 106.62h2.52v7.95h-2.52zM40.18 106.44h2.52v7.95h-2.52zM44.65 106.34h2.52v7.95h-2.52zM54.48 105.77h2.29v10.14h-2.29zM1.43 116.37h2.57v8.85h-2.57zM6.01 116.34h2.57v8.85h-2.57zM10.59 115.35h2.57v8.85h-2.57zM15.17 115.6h2.57v8.85h-2.57zM28.07 115.71h1.8v9.59h-1.8zM31.91 115.09h1.8v9.59h-1.8zM35.75 115.65h1.8v9.59h-1.8zM45.25 115.65h2.02v8.43h-2.02zM48.97 115.95h2.02v8.43h-2.02zM2.47 126.6h2.68v6.38h-2.68zM6.77 126.04h2.68v6.38h-2.68zM13.5 127.04h2.67v9.2h-2.67zM17.72 126.7h2.67v9.2h-2.67zM28.86 127.76h8.12v4.82h-8.12zM41.97 126.95h1.82v6.28h-1.82zM45.34 127.3h1.82v6.28h-1.82zM52.7 126.67h1.93v10.34h-1.93zM56.16 126.16h1.93v10.34h-1.93zM4.1 140.08h2.85v6.53h-2.85zM8.68 139.56h2.85v6.53h-2.85zM13.26 139.34h2.85v6.53h-2.85zM21.48 139.59h2.89v10h-2.89zM26.33 139.3h2.89v10h-2.89zM31.19 140.19h2.89v10h-2.89zM36.04 139.14h2.89v10h-2.89zM45.15 138.95h3.23v5.25h-3.23zM50.79 141.74h8.33v5.23h-8.33zM4.23 149.65h2.49v9.17h-2.49zM8.74 149.95h2.49v9.17h-2.49zM24.11 149.54h1.9v9.93h-1.9zM27.92 149.49h1.9v9.93h-1.9zM31.73 149.48h1.9v9.93h-1.9zM35.55 149.93h1.9v9.93h-1.9zM47.1 149.53h1.75v7.35h-1.75zM50.33 149.87h1.75v7.35h-1.75zM1.32 161.97h2.88v9.4h-2.88zM6.06 162.06h2.88v9.4h-2.88zM10.8 162.4h2.88v9.4h-2.88zM15.54 162.02h2.88v9.4h-2.88zM25.76 161.65h1.74v8.25h-1.74zM28.98 162.35h1.74v8.25h-1.74zM32.21 162.47h1.74v8.25h-1.74zM41.66 161.4h2.42v6.98h-2.42zM45.75 161.97h2.42v6.98h-2.42zM49.85 161.33h2.42v6.98h-2.42zM0.66 176.92h4.55v5.59h-4.55zM10.57 176.56h6.19v4.83h-6.19zM21.06 175.86h2.49v9.35h-2.49zM25.47 175.39h2.49v9.35h-2.49zM29.88 176.18h2.49v9.35h-2.49zM38.94 175.58h2.79v8.46h-2.79zM43.71 175.13h2.79v8.46h-2.79zM53.27 176.39h2.81v6.65h-2.81zM1.05 185.22h5.88v3.62h-5.88zM15.18 187.62h7.56v3.49h-7.56zM26.94 185.05h5.64v4.26h-5.64zM37.08 185.06h1.81v9.93h-1.81zM40.44 185.71h1.81v9.93h-1.81zM48.73 185.95h1.89v8.11h-1.89zM52.48 185.84h1.89v8.11h-1.89zM56.22 186.39h1.89v8.11h-1.89z" fill="#fff"/></g></g><g transform="matrix(1,-1,0,1,1015.9,270.2)"><clipPath id="c12"><polygon points="0,0 60,0 60,195.2 0,195.2"/></clipPath><polygon points="0,0 60,0 60,195.2 0,195.2" fill="#000"/><g clip-path="url(#c12)"><path d="M27 1.23h1.17v5.71h-1.17zM29.7 1.36h1.17v5.72h-1.17zM32.26 1.84h1.17v6.03h-1.17zM34.75 2.68h1.17v5.71h-1.17zM37.03 1.06h1.17v6.14h-1.17zM39.21 2.97h1.17v6.43h-1.17zM42.31 1.26h1.17v8.73h-1.17zM44.92 2.38h1.17v7.78h-1.17zM47.28 1.47h1.17v7.85h-1.17zM49.5 1.03h1.17v8.21h-1.17zM52.24 1.52h1.17v7.23h-1.17zM55.26 1.56h1.17v5.68h-1.17zM57.78 1.34h1.17v6.64h-1.17zM21 25.38h16.8v2.08h-16.8zM21 25.38h2.08v39.04h-2.08zM35.72 25.38h2.08v39.04h-2.08zM21 62.34h16.8v2.08h-16.8zM26.88 37.09h2.08v17.57h-2.08zM31.92 37.09h2.08v17.57h-2.08zM3.15 11.54h2.81v7.62h-2.81zM10.06 11.3h3.74v4.64h-3.74zM17.11 11.28h4v5.16h-4zM25.54 11.08h3.91v6.74h-3.91zM33.16 11.53h3.56v4.85h-3.56zM39.63 10.4h1.97v4.04h-1.97zM45.35 10.41h6.53v4.04h-6.53zM57.03 10.53h2.74v4.67h-2.74zM5.23 24.48h4.66v4.74h-4.66zM13.3 23.1h3.98v7.72h-3.98zM20.53 23.06h5.19v4.71h-5.19zM42.08 23.13h3.18v7.21h-3.18zM47.51 22.99h2.89v7.13h-2.89zM56.38 23.31h2.37v4.18h-2.37zM3.17 33.51h3.06v4.71h-3.06zM18.6 33.47h2.1v3.98h-2.1zM22.86 34.3h2.81v5.66h-2.81zM34.25 33.52h3.4v4.7h-3.4zM48.31 34.18h3.12v5.14h-3.12zM3.37 41.57h2.16v4.97h-2.16zM14.21 41.9h2.57v5.11h-2.57zM23.66 41.65h2.49v4.53h-2.49zM30.83 42.75h6.89v3.42h-6.89zM41.71 42.86h2.48v7.25h-2.48zM53.16 42.37h3.14v4.67h-3.14zM2.29 52.41h2.8v4.42h-2.8zM8.7 52.41h2.58v5.12h-2.58zM22.65 52.41h2.33v4.07h-2.33zM26.97 52.66h2.85v7.13h-2.85zM34.13 52.6h3.83v4.87h-3.83zM42.94 54.82h4.89v5.12h-4.89zM55.15 53.15h3.9v5.03h-3.9zM6.54 61.79h3.35v7.08h-3.35zM14.12 62.47h2.44v4.32h-2.44zM27.31 62.06h3.36v7.47h-3.36zM34.37 62.62h2.53v6.32h-2.53zM10.77 70.78h2.77v4.11h-2.77zM23.72 71.27h3.61v7.15h-3.61zM39.33 71.9h2.62v6.54h-2.62zM51.22 71.7h3.6v7.61h-3.6zM3.41 82.24h2.81v5.19h-2.81zM9.08 82.75h2.57v5.94h-2.57zM18.16 82.7h2.98v7.64h-2.98zM26.07 82.62h2.65v7.75h-2.65zM34.88 81.97h2.5v4.53h-2.5zM40.49 82h3.8v7.01h-3.8zM49.03 82.41h3.04v4.51h-3.04zM3.3 92.3h3.33v6.42h-3.33zM17.91 92.33h2.6v4.11h-2.6zM25.42 91.53h4.47v4.84h-4.47zM33.3 91.06h2.24v5.16h-2.24zM39.55 92.3h3.26v7.34h-3.26zM45.78 91.86h2.39v5.11h-2.39zM52.99 92.16h2.62v5.34h-2.62zM2.21 104.07h4.13v3.98h-4.13zM10.98 103.75h2.4v5.11h-2.4zM18.02 103.6h3.44v7.59h-3.44zM23.58 103.04h3.14v7.32h-3.14zM44.67 102.78h3.04v4.99h-3.04zM55.51 103.22h3.55v4.6h-3.55zM1.51 112.11h3.6v6.36h-3.6zM11.51 111.4h2.9v6.88h-2.9zM35.01 111.5h7.51v4.98h-7.51zM55.82 112.13h3.19v3.99h-3.19zM6.61 123.93h3.74v5.27h-3.74zM18.29 124.41h2.69v6.93h-2.69zM24.42 123.63h4.16v6.84h-4.16zM42.95 123.25h2.39v4.69h-2.39zM49.74 125.18h4.39v3.21h-4.39zM17.04 137.49h5.59v4.83h-5.59zM26.63 136.24h3.8v4.39h-3.8zM44.52 134.97h3.21v3.92h-3.21zM50.72 134.97h2.15v3.57h-2.15zM0.79 144.75h2.61v7.74h-2.61zM6.48 144.32h4.01v3.96h-4.01zM15.28 145.21h7.27v4.19h-7.27zM26.83 144.07h3.15v3.65h-3.15zM32.74 144.42h3.52v7.22h-3.52zM38.96 144.37h3.48v7.43h-3.48zM46.81 145.1h3.45v6.73h-3.45zM54.39 145.75h4.77v2.98h-4.77zM3.68 155.69h3.72v6.77h-3.72zM10.51 157.17h5.61v3.21h-5.61zM19.67 157.29h6.93v4.11h-6.93zM41.61 156.44h3.63v6.61h-3.63zM48.14 156.08h2.93v7.58h-2.93zM6.82 167.07h4.07v5.88h-4.07zM13.94 167.26h2.65v5.59h-2.65zM23.43 166.92h4.15v7.24h-4.15zM30.27 167.73h2.59v5.88h-2.59zM39.88 166.5h3.06v3.71h-3.06zM46.02 167.2h4.11v6.37h-4.11zM53.9 166.71h3.91v5.48h-3.91zM3.85 179.01h3.98v4.82h-3.98zM14.35 179.92h3.98v7.51h-3.98zM24.73 180.03h2.95v5.2h-2.95zM30.84 179.26h2.52v4.88h-2.52zM36.37 179.52h3.7v5.58h-3.7z" fill="none" stroke="#fff" stroke-width="0.65"/></g></g><path d="M654.9,283.7 L654.9,283.7" stroke="#7030A0" stroke-width="2.7" fill="none" stroke-linecap="round"/><path d="M654.9,283.7 L647.98,309.65" stroke="#7030A0" stroke-width="2.7" fill="none"/><path d="M645.3,319.7 L642.08,305.39 L648.05,309.4 L655.22,308.89 Z" fill="#7030A0"/><path d="M654.9,283.7 L666.71,309.07" stroke="#7030A0" stroke-width="2.7" fill="none"/><path d="M671.1,318.5 L659.45,309.58 L666.6,308.84 L671.78,303.84 Z" fill="#7030A0"/><path d="M761.7,293.4 L761.7,293.4" stroke="#7030A0" stroke-width="2.7" fill="none" stroke-linecap="round"/><path d="M761.7,293.4 L755.56,318.6" stroke="#7030A0" stroke-width="2.7" fill="none"/><path d="M753.1,328.7 L749.57,314.46 L755.62,318.34 L762.78,317.68 Z" fill="#7030A0"/><path d="M761.7,293.4 L771.79,319.02" stroke="#7030A0" stroke-width="2.7" fill="none"/><path d="M775.6,328.7 L764.51,319.1 L771.69,318.78 L777.16,314.11 Z" fill="#7030A0"/><path d="M850.3,314.4 L850.3,314.4" stroke="#7030A0" stroke-width="2.7" fill="none" stroke-linecap="round"/><path d="M850.3,314.4 L850.37,343.6" stroke="#7030A0" stroke-width="2.7" fill="none"/><path d="M850.4,354 L843.57,341.02 L850.37,343.34 L857.17,340.98 Z" fill="#7030A0"/><path d="M850.3,314.4 L868.65,337.02" stroke="#7030A0" stroke-width="2.7" fill="none"/><path d="M875.2,345.1 L861.73,339.29 L868.48,336.82 L872.29,330.72 Z" fill="#7030A0"/><path d="M982.9,179 L982.9,179" stroke="#7030A0" stroke-width="2.7" fill="none" stroke-linecap="round"/><path d="M982.9,179 L1003.2,152.37" stroke="#7030A0" stroke-width="2.7" fill="none"/><path d="M1009.5,144.1 L1007.03,158.56 L1003.04,152.58 L996.21,150.32 Z" fill="#7030A0"/><path d="M982.9,179 L1010.86,261.35" stroke="#7030A0" stroke-width="2.7" fill="none"/><path d="M1014.2,271.2 L1003.58,261.08 L1010.77,261.11 L1016.46,256.7 Z" fill="#7030A0"/><path d="M642,433.5 C688,428 722,372 722.3,304" stroke="#70AD47" stroke-width="2.6" fill="none"/><path d="M664.7,434.3 C702,432 726,378 724.7,304" stroke="#70AD47" stroke-width="2.6" fill="none"/><g transform="matrix(1,-1,0,1,646.6,350)"><clipPath id="c13"><polygon points="0,0 27.6,0 27.6,100.6 0,100.6"/></clipPath><polygon points="0,0 27.6,0 27.6,100.6 0,100.6" fill="#000"/><g clip-path="url(#c13)"><path d="M12.42 2.92h0.95v4.64h-0.95zM14.12 3h0.95v4.78h-0.95zM15.9 2.3h0.95v5.29h-0.95zM18.33 1.46h0.95v7.22h-0.95zM20.28 2.2h0.95v7.14h-0.95zM22.53 2.85h0.95v6.43h-0.95zM24.25 2.76h0.95v6.06h-0.95zM26.19 1.38h0.95v6.88h-0.95zM9.66 13.08h7.73v1.68h-7.73zM9.66 13.08h1.68v20.12h-1.68zM15.71 13.08h1.68v20.12h-1.68zM9.66 31.52h7.73v1.68h-7.73zM12.36 19.11h1.68v9.05h-1.68zM14.68 19.11h1.68v9.05h-1.68zM5.5 9.31h1.41v7.51h-1.41zM8.17 9.4h1.41v7.51h-1.41zM10.84 8.94h1.41v7.51h-1.41zM15.82 10.29h4.51v2.96h-4.51zM23.01 8.99h1.59v4.88h-1.59zM1.66 18.64h2.02v2.77h-2.02zM6.42 19.05h3.33v3.9h-3.33zM11.96 18.98h1.4v5.48h-1.4zM14.7 19.01h1.4v5.48h-1.4zM19.52 18.84h1.88v4.57h-1.88zM22.79 18.77h1.88v4.57h-1.88zM2.23 27.97h1.88v6.87h-1.88zM5.41 27.67h1.88v6.87h-1.88zM8.6 28.12h1.88v6.87h-1.88zM11.78 28.16h1.88v6.87h-1.88zM19.76 28.03h1.34v6.39h-1.34zM22.48 27.48h1.34v6.39h-1.34zM25.2 27.38h1.34v6.39h-1.34zM3.13 34.59h1.41v4.56h-1.41zM5.74 34.32h1.41v4.56h-1.41zM10.82 34.1h2.45v2.69h-2.45zM15.84 34.82h1.89v4.38h-1.89zM19.11 34.54h1.89v4.38h-1.89zM2.97 44.06h1.3v4.31h-1.3zM5.57 43.26h1.3v4.31h-1.3zM8.18 43.92h1.3v4.31h-1.3zM14.94 44.27h1.62v5.15h-1.62zM17.8 43.98h1.62v5.15h-1.62zM20.65 43.99h1.62v5.15h-1.62zM23.51 43.89h1.62v5.15h-1.62zM3.01 52.22h1.97v4.89h-1.97zM6.3 52.1h1.97v4.89h-1.97zM9.59 52.81h1.97v4.89h-1.97zM15.8 52.78h6.22v2.67h-6.22zM25.88 52.9h1.7v4.51h-1.7zM2.72 61.89h3.51v3.27h-3.51zM9.46 62.74h1.48v5.35h-1.48zM12.14 62.39h1.48v5.35h-1.48zM17.78 62.62h2.05v7.51h-2.05zM21.27 62.47h2.05v7.51h-2.05zM24.75 62.12h2.05v7.51h-2.05zM2.92 69.87h1.35v7.23h-1.35zM5.8 69.08h1.35v7.23h-1.35zM8.68 69.21h1.35v7.23h-1.35zM14.17 69.3h1.71v7.72h-1.71zM17.39 68.95h1.71v7.72h-1.71zM24.69 69.38h1.95v6.24h-1.95zM1.76 76.41h1.32v5.6h-1.32zM4.31 76.06h1.32v5.6h-1.32zM6.85 75.93h1.32v5.6h-1.32zM12.63 76.21h5.7v3.58h-5.7zM20.65 76.04h1.97v4.49h-1.97zM24.07 76.28h1.97v4.49h-1.97zM2.4 82.81h4.84v3.42h-4.84zM10.9 82.98h1.41v7.57h-1.41zM13.57 83.26h1.41v7.57h-1.41zM16.24 82.67h1.41v7.57h-1.41zM18.91 83.3h1.41v7.57h-1.41zM25.21 83.03h1.5v7.61h-1.5zM2.36 89.9h1.38v6.05h-1.38zM5.07 89.33h1.38v6.05h-1.38zM7.79 90.07h1.38v6.05h-1.38zM10.5 89.75h1.38v6.05h-1.38zM17.2 89.68h1.81v4.23h-1.81zM20.19 90.07h1.81v4.23h-1.81zM23.19 89.38h1.81v4.23h-1.81z" fill="#fff"/></g></g><path d="M723.5,294.7 L730.5,307.2 L723.5,304.95 L716.5,307.2 Z" fill="#70AD47"/><circle cx="696.2" cy="402" r="14.6" fill="#FFC000" stroke="#F4B183" stroke-width="3.2"/><text x="696.4" y="409.04" fill="#fff" stroke="#fff" stroke-width="0.55" font-size="21" font-weight="normal" text-anchor="middle">C</text><path d="M766.7,473 C797,466 817,405 818,325" stroke="#70AD47" stroke-width="2.6" fill="none"/><path d="M766.7,473 C805,473 821,412 819.2,325" stroke="#70AD47" stroke-width="2.6" fill="none"/><path d="M818.6,315.5 L825.6,328 L818.6,325.75 L811.6,328 Z" fill="#70AD47"/><circle cx="802.9" cy="441.5" r="14.6" fill="#FFC000" stroke="#F4B183" stroke-width="3.2"/><text x="803.1" y="448.54" fill="#fff" stroke="#fff" stroke-width="0.55" font-size="21" font-weight="normal" text-anchor="middle">C</text><path d="M863,529.5 C908,507 923,405 895.4,348" stroke="#70AD47" stroke-width="2.6" fill="none"/><path d="M863,529.5 C916,514 930,408 897.6,348" stroke="#70AD47" stroke-width="2.6" fill="none"/><path d="M896.5,339 L903.5,351.5 L896.5,349.25 L889.5,351.5 Z" fill="#70AD47"/><circle cx="908.6" cy="480.5" r="14.6" fill="#FFC000" stroke="#F4B183" stroke-width="3.2"/><text x="908.8" y="487.54" fill="#fff" stroke="#fff" stroke-width="0.55" font-size="21" font-weight="normal" text-anchor="middle">C</text><g stroke="#000" stroke-width="3" stroke-dasharray="3,6.3" fill="none"><path d="M10.1,347.7 H331"/><path d="M5.6,356.9 V556"/><path d="M14.8,552.4 H326"/><path d="M329.6,353.5 V553"/></g><rect x="4.1" y="347.9" width="3.2" height="3" fill="#000"/><rect x="4.1" y="551" width="3.2" height="3" fill="#000"/><polygon points="27.6,366.2 35.2,358.6 35.8,358.6 35.8,389.6 27.6,397.2" fill="#2F80C9"/><polygon points="20.2,366.8 27.8,358.6 35.8,358.6 35.8,358.61 28.2,366.8" fill="#A2C5E8"/><rect x="20.2" y="366.2" width="8" height="31" fill="#5B9BD5"/><polygon points="27.6,407.8 35.2,400.2 35.8,400.2 35.8,431.2 27.6,438.8" fill="#548C36"/><polygon points="20.2,408.4 27.8,400.2 35.8,400.2 35.8,400.21 28.2,408.4" fill="#A3CF87"/><rect x="20.2" y="407.8" width="8" height="31" fill="#70AD47"/><polygon points="27.6,449 35.2,441.4 35.8,441.4 35.8,472.4 27.6,480" fill="#C89A00"/><polygon points="20.2,449.6 27.8,441.4 35.8,441.4 35.8,441.41 28.2,449.6" fill="#FFD55C"/><rect x="20.2" y="449" width="8" height="31" fill="#FFC000"/><polygon points="231.4,366.2 239,358.6 239.6,358.6 239.6,389.6 231.4,397.2" fill="#52527E"/><polygon points="224,366.8 231.6,358.6 239.6,358.6 239.6,358.61 232,366.8" fill="#9D9DC0"/><rect x="224" y="366.2" width="8" height="31" fill="#646497"/><polygon points="231.4,407.6 239,400 239.6,400 239.6,431 231.4,438.6" fill="#D45F17"/><polygon points="224,408.2 231.6,400 239.6,400 239.6,400.01 232,408.2" fill="#F2B38A"/><rect x="224" y="407.6" width="8" height="31" fill="#ED7D31"/><circle cx="231.8" cy="461.7" r="12.2" fill="#FFC000" stroke="#F4B183" stroke-width="3.2"/><text x="232" y="468.06" fill="#fff" stroke="#fff" stroke-width="0.15" font-size="19" font-weight="normal" text-anchor="middle">C</text><path d="M18.4,500 L34.5,500" stroke="#7030A0" stroke-width="3.4" fill="none"/><path d="M45.3,500 L31.8,506.9 L34.23,500 L31.8,493.1 Z" fill="#7030A0"/><path d="M18.4,535.5 L34.5,535.5" stroke="#70AD47" stroke-width="3.4" fill="none"/><path d="M45.3,535.5 L31.8,542.4 L34.23,535.5 L31.8,528.6 Z" fill="#70AD47"/><path d="M218,499.7 L234.5,499.7" stroke="#595959" stroke-width="3.4" fill="none"/><path d="M245.3,499.7 L231.8,506.6 L234.23,499.7 L231.8,492.8 Z" fill="#595959"/><text x="54" y="382.2" fill="#000" font-size="15.5" font-weight="bold">3×3 Conv+BN+ReLU</text><text x="54" y="424.6" fill="#000" font-size="15.5"><tspan font-weight="bold">2×2 </tspan><tspan font-size="15">双线性插值上采样</tspan></text><text x="54" y="465.8" fill="#000"  font-size="15">最大池化</text><text x="54" y="505.3" fill="#000" font-size="15.5" font-weight="bold">1×1 Conv+Sigmoid</text><text x="54" y="540.6" fill="#000"  font-size="15">双线性插值上采样</text><text x="255.3" y="382.2" fill="#000" font-size="15.5" font-weight="bold">CBAM</text><text x="255.3" y="424.7" fill="#000" font-size="15.5" font-weight="bold">CSPM</text><text x="254.5" y="466.2" fill="#000"  font-size="15">拼接融合</text><text x="254.5" y="504.8" fill="#000"  font-size="15">数据流</text><path d="M464,570.4 L12.6,570.4" stroke="#000" stroke-width="2.8" fill="none"/><path d="M1.4,570.4 L15.4,564.1 L12.88,570.4 L15.4,576.7 Z" fill="#000"/><path d="M476.2,570.4 L538,570.4" stroke="#000" stroke-width="2.8" fill="none"/><path d="M549.2,570.4 L535.2,576.7 L537.72,570.4 L535.2,564.1 Z" fill="#000"/><path d="M549.2,570.4 L487.4,570.4" stroke="#000" stroke-width="2.8" fill="none"/><path d="M476.2,570.4 L490.2,564.1 L487.68,570.4 L490.2,576.7 Z" fill="#000"/><path d="M1068,570.4 L572.6,570.4" stroke="#000" stroke-width="2.8" fill="none"/><path d="M561.4,570.4 L575.4,564.1 L572.88,570.4 L575.4,576.7 Z" fill="#000"/><path d="M464,570.4 L450,576.7 L452.52,570.4 L450,564.1 Z" fill="#000"/><path d="M1066.8,570.4 L1052.8,576.7 L1055.32,570.4 L1052.8,564.1 Z" fill="#000"/><path d="M470,557 L470,580.2" stroke="#000" stroke-width="3" stroke-dasharray="5.4,4.1"/><path d="M555.3,557 L555.3,580.2" stroke="#000" stroke-width="3" stroke-dasharray="5.4,4.1"/><text x="231" y="613" fill="#000" font-size="18" text-anchor="middle">编码阶段</text><text x="507" y="602.5" fill="#000" font-size="18" text-anchor="middle">多尺度特征提取</text><text x="507" y="624.5" fill="#000" font-size="18" text-anchor="middle">融合阶段</text><text x="848" y="613" fill="#000" font-size="18" text-anchor="middle">解码阶段</text></svg></body></html>
